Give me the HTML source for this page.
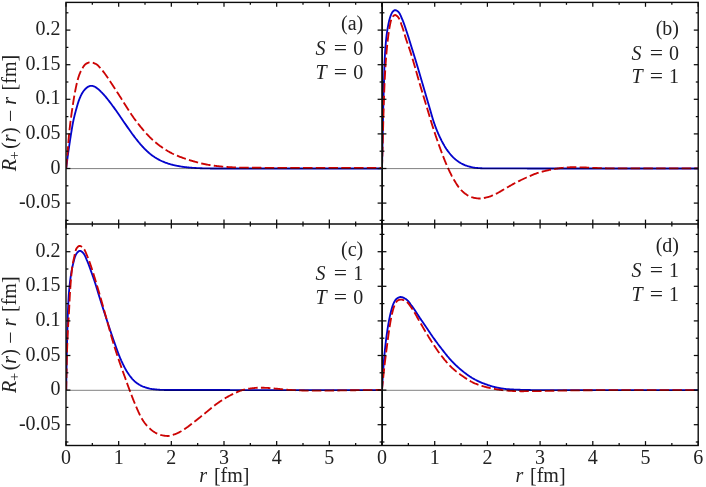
<!DOCTYPE html>
<html><head><meta charset="utf-8"><title>R+(r) - r</title>
<style>
html,body{margin:0;padding:0;background:#fff;}
body{width:706px;height:487px;overflow:hidden;font-family:"Liberation Serif",serif;}
svg{display:block;will-change:transform;}
</style></head><body>
<svg width="706" height="487" viewBox="0 0 706 487">
<rect width="706" height="487" fill="#ffffff"/>
<defs>
<clipPath id="cpa"><rect x="66.00" y="2.40" width="316.00" height="221.60"/></clipPath>
<clipPath id="cpb"><rect x="382.00" y="2.40" width="316.20" height="221.60"/></clipPath>
<clipPath id="cpc"><rect x="66.00" y="224.00" width="316.00" height="221.50"/></clipPath>
<clipPath id="cpd"><rect x="382.00" y="224.00" width="316.20" height="221.50"/></clipPath>
</defs>
<g clip-path="url(#cpa)" fill="none" stroke-linejoin="round">
<path d="M66.20 168.40L66.27 167.80L66.34 167.21L66.41 166.61L66.48 166.02L66.56 165.42L66.63 164.83L66.70 164.23L66.78 163.63L66.85 163.04L66.93 162.44L67.00 161.85L67.08 161.25L67.15 160.66L67.23 160.06L67.31 159.47L67.39 158.87L67.46 158.28L67.54 157.68L67.62 157.09L67.70 156.49L67.78 155.90L67.86 155.31L67.94 154.71L68.03 154.12L68.11 153.52L68.19 152.93L68.28 152.33L68.36 151.74L68.45 151.15L68.53 150.55L68.62 149.96L68.70 149.36L68.79 148.77L68.87 148.18L68.96 147.58L69.05 146.99L69.13 146.40L69.22 145.80L69.31 145.21L69.40 144.61L69.49 144.02L69.57 143.43L69.66 142.83L69.75 142.24L69.84 141.65L69.93 141.05L70.02 140.46L70.11 139.87L70.20 139.27L70.30 138.68L70.39 138.09L70.48 137.50L70.57 136.90L70.67 136.31L70.76 135.72L70.86 135.13L70.95 134.53L71.05 133.94L71.14 133.35L71.24 132.76L71.34 132.16L71.43 131.57L71.53 130.98L71.63 130.39L71.72 129.79L71.82 129.20L71.92 128.61L72.02 128.02L72.12 127.43L72.22 126.83L72.32 126.24L72.42 125.65L72.52 125.06L72.63 124.47L72.74 123.88L72.85 123.29L72.96 122.70L73.08 122.11L73.19 121.52L73.31 120.94L73.44 120.35L73.56 119.77L73.69 119.18L73.82 118.59L73.96 118.01L74.10 117.43L74.24 116.84L74.38 116.26L74.52 115.68L74.67 115.09L74.82 114.51L74.97 113.93L75.12 113.35L75.27 112.77L75.43 112.19L75.58 111.61L75.74 111.03L75.90 110.45L76.06 109.87L76.22 109.29L76.38 108.72L76.54 108.14L76.70 107.56L76.86 106.98L77.02 106.40L77.19 105.82L77.35 105.24L77.52 104.66L77.70 104.09L77.87 103.51L78.05 102.94L78.23 102.37L78.42 101.80L78.61 101.23L78.81 100.67L79.01 100.10L79.22 99.55L79.44 98.99L79.66 98.43L79.89 97.87L80.12 97.31L80.36 96.76L80.61 96.20L80.87 95.65L81.14 95.11L81.41 94.57L81.69 94.04L81.98 93.52L82.28 93.01L82.59 92.51L82.91 92.02L83.25 91.52L83.61 91.03L83.98 90.55L84.36 90.07L84.76 89.61L85.17 89.16L85.59 88.73L86.03 88.31L86.47 87.93L86.93 87.55L87.41 87.18L87.92 86.83L88.45 86.53L88.99 86.30L89.55 86.12L90.14 85.96L90.74 85.84L91.33 85.80L91.93 85.84L92.53 85.95L93.12 86.10L93.69 86.27L94.24 86.46L94.78 86.72L95.31 87.02L95.82 87.36L96.32 87.71L96.81 88.05L97.28 88.40L97.75 88.76L98.21 89.14L98.67 89.52L99.12 89.92L99.56 90.33L100.00 90.74L100.44 91.17L100.87 91.59L101.29 92.03L101.72 92.46L102.13 92.90L102.55 93.34L102.96 93.78L103.37 94.22L103.78 94.65L104.18 95.10L104.58 95.54L104.97 96.00L105.36 96.45L105.74 96.92L106.12 97.38L106.50 97.85L106.88 98.32L107.25 98.79L107.63 99.26L108.00 99.73L108.37 100.20L108.74 100.67L109.11 101.14L109.48 101.62L109.85 102.09L110.21 102.57L110.57 103.05L110.93 103.53L111.29 104.01L111.65 104.49L112.01 104.97L112.37 105.45L112.72 105.94L113.08 106.42L113.43 106.90L113.79 107.39L114.14 107.88L114.49 108.36L114.84 108.85L115.19 109.34L115.53 109.83L115.88 110.32L116.23 110.81L116.57 111.30L116.92 111.79L117.27 112.28L117.61 112.77L117.95 113.26L118.30 113.75L118.64 114.24L118.99 114.74L119.33 115.23L119.67 115.72L120.01 116.22L120.35 116.71L120.68 117.21L121.02 117.70L121.36 118.20L121.70 118.70L122.03 119.19L122.37 119.69L122.71 120.19L123.05 120.68L123.38 121.18L123.72 121.67L124.06 122.17L124.40 122.66L124.74 123.16L125.08 123.65L125.42 124.15L125.76 124.64L126.10 125.14L126.44 125.63L126.78 126.13L127.12 126.62L127.46 127.12L127.80 127.61L128.14 128.10L128.48 128.60L128.82 129.09L129.17 129.58L129.51 130.07L129.86 130.56L130.21 131.05L130.56 131.53L130.91 132.02L131.26 132.51L131.62 132.99L131.97 133.48L132.33 133.96L132.68 134.44L133.04 134.93L133.40 135.41L133.76 135.89L134.12 136.37L134.48 136.85L134.84 137.33L135.21 137.80L135.57 138.28L135.94 138.75L136.31 139.22L136.69 139.69L137.06 140.16L137.44 140.63L137.81 141.09L138.19 141.56L138.57 142.02L138.95 142.49L139.34 142.95L139.73 143.41L140.11 143.87L140.50 144.32L140.90 144.78L141.29 145.23L141.69 145.67L142.10 146.12L142.50 146.56L142.91 147.00L143.32 147.44L143.73 147.87L144.15 148.31L144.56 148.74L144.99 149.17L145.41 149.59L145.84 150.02L146.27 150.44L146.70 150.85L147.14 151.26L147.58 151.66L148.03 152.06L148.48 152.46L148.93 152.86L149.38 153.25L149.84 153.64L150.31 154.02L150.78 154.40L151.25 154.78L151.73 155.14L152.21 155.50L152.69 155.85L153.18 156.19L153.67 156.52L154.17 156.85L154.67 157.18L155.18 157.50L155.69 157.82L156.20 158.14L156.72 158.45L157.24 158.76L157.77 159.07L158.29 159.36L158.82 159.65L159.35 159.94L159.89 160.22L160.43 160.49L160.97 160.75L161.51 161.00L162.05 161.25L162.59 161.49L163.14 161.71L163.69 161.94L164.25 162.16L164.81 162.37L165.37 162.59L165.93 162.79L166.50 162.99L167.07 163.19L167.64 163.39L168.21 163.57L168.79 163.76L169.37 163.94L169.95 164.11L170.52 164.27L171.10 164.44L171.68 164.59L172.26 164.74L172.84 164.89L173.42 165.03L174.01 165.16L174.59 165.30L175.17 165.43L175.76 165.55L176.35 165.68L176.94 165.80L177.53 165.92L178.12 166.03L178.71 166.15L179.30 166.25L179.89 166.36L180.49 166.46L181.08 166.55L181.67 166.64L182.27 166.73L182.86 166.81L183.45 166.89L184.05 166.97L184.64 167.05L185.24 167.12L185.83 167.19L186.43 167.26L187.03 167.33L187.62 167.40L188.22 167.46L188.82 167.52L189.42 167.58L190.01 167.64L190.61 167.69L191.21 167.74L191.81 167.79L192.41 167.83L193.01 167.87L193.60 167.91L194.20 167.94L194.80 167.97L195.40 168.00L196.00 168.04L196.60 168.07L197.20 168.09L197.80 168.12L198.40 168.15L199.00 168.17L199.60 168.20L200.20 168.22L200.80 168.24L201.40 168.26L202.00 168.28L202.60 168.30L203.20 168.32L203.80 168.33L204.39 168.35L204.99 168.36L205.59 168.37L206.19 168.38L206.79 168.40L207.39 168.41L207.99 168.42L208.59 168.43L209.19 168.44L209.79 168.45L210.39 168.46L210.99 168.47L211.59 168.48L212.19 168.48L212.79 168.49L213.39 168.49L213.99 168.50L214.59 168.50L215.19 168.50L215.79 168.50L216.39 168.50L216.99 168.50L217.59 168.50L218.19 168.50L218.79 168.50L219.39 168.50L219.99 168.50L220.59 168.50L221.19 168.50L221.79 168.50L222.39 168.50L222.99 168.50L223.59 168.50L224.19 168.50L224.79 168.50L225.39 168.50L225.99 168.50L226.59 168.50L227.19 168.50L227.79 168.50L228.39 168.50L228.99 168.50L229.59 168.50L230.19 168.50L230.79 168.50L231.39 168.50L231.99 168.50L232.59 168.50L233.19 168.50L233.79 168.50L234.39 168.50L234.99 168.50L235.59 168.50L236.19 168.50L236.79 168.50L237.39 168.50L237.99 168.50L238.59 168.50L239.19 168.50L239.79 168.50L240.39 168.50L240.99 168.50L241.59 168.50L242.19 168.50L242.79 168.50L243.39 168.50L243.99 168.50L244.59 168.50L245.19 168.50L245.79 168.50L246.39 168.50L246.99 168.50L247.59 168.50L248.19 168.50L248.79 168.50L249.39 168.50L249.99 168.50L250.59 168.50L251.19 168.50L251.79 168.50L252.39 168.50L252.99 168.50L253.59 168.50L254.19 168.50L254.79 168.50L255.39 168.50L255.99 168.50L256.59 168.50L257.19 168.50L257.79 168.50L258.39 168.50L258.99 168.50L259.59 168.50L260.19 168.50L260.79 168.50L261.39 168.50L261.99 168.50L262.59 168.50L263.19 168.50L263.79 168.50L264.39 168.50L264.99 168.50L265.59 168.50L266.19 168.50L266.79 168.50L267.39 168.50L267.99 168.50L268.59 168.50L269.19 168.50L269.79 168.50L270.39 168.50L270.99 168.50L271.59 168.50L272.19 168.50L272.79 168.50L273.39 168.50L273.99 168.50L274.59 168.50L275.19 168.50L275.79 168.50L276.39 168.50L276.99 168.50L277.59 168.50L278.19 168.50L278.79 168.50L279.39 168.50L279.99 168.50L280.59 168.50L281.19 168.50L281.79 168.50L282.39 168.50L282.99 168.50L283.59 168.50L284.19 168.50L284.79 168.50L285.39 168.50L285.99 168.50L286.59 168.50L287.19 168.50L287.79 168.50L288.39 168.50L288.99 168.50L289.59 168.50L290.19 168.50L290.79 168.50L291.39 168.50L291.99 168.50L292.59 168.50L293.19 168.50L293.79 168.50L294.39 168.50L294.99 168.50L295.59 168.50L296.19 168.50L296.79 168.50L297.39 168.50L297.99 168.50L298.59 168.50L299.19 168.50L299.79 168.50L300.39 168.50L300.99 168.50L301.59 168.50L302.19 168.50L302.79 168.50L303.39 168.50L303.99 168.50L304.59 168.50L305.19 168.50L305.79 168.50L306.39 168.50L306.99 168.50L307.59 168.50L308.19 168.50L308.79 168.50L309.39 168.50L309.99 168.50L310.59 168.50L311.19 168.50L311.79 168.50L312.39 168.50L312.99 168.50L313.59 168.50L314.19 168.50L314.79 168.50L315.39 168.50L315.99 168.50L316.59 168.50L317.19 168.50L317.79 168.50L318.39 168.50L318.99 168.50L319.59 168.50L320.19 168.50L320.79 168.50L321.39 168.50L321.99 168.50L322.59 168.50L323.19 168.50L323.79 168.50L324.39 168.50L324.99 168.50L325.59 168.50L326.19 168.50L326.79 168.50L327.39 168.50L327.99 168.50L328.59 168.50L329.19 168.50L329.79 168.50L330.39 168.50L330.99 168.50L331.59 168.50L332.19 168.50L332.79 168.50L333.39 168.50L333.99 168.50L334.59 168.50L335.19 168.50L335.79 168.50L336.39 168.50L336.99 168.50L337.59 168.50L338.19 168.50L338.79 168.50L339.39 168.50L339.99 168.50L340.59 168.50L341.19 168.50L341.79 168.50L342.39 168.50L342.99 168.50L343.59 168.50L344.19 168.50L344.79 168.50L345.39 168.50L345.99 168.50L346.59 168.50L347.19 168.50L347.79 168.50L348.39 168.50L348.99 168.50L349.59 168.50L350.19 168.50L350.79 168.50L351.39 168.50L351.99 168.50L352.59 168.50L353.19 168.50L353.79 168.50L354.39 168.50L354.99 168.50L355.59 168.50L356.19 168.50L356.79 168.50L357.39 168.50L357.99 168.50L358.59 168.50L359.19 168.50L359.79 168.50L360.39 168.50L360.99 168.50L361.59 168.50L362.19 168.50L362.79 168.50L363.39 168.50L363.99 168.50L364.59 168.50L365.19 168.50L365.79 168.50L366.39 168.50L366.99 168.50L367.59 168.50L368.19 168.50L368.79 168.50L369.39 168.50L369.99 168.50L370.59 168.50L371.19 168.50L371.79 168.50L372.39 168.50L372.99 168.50L373.59 168.50L374.19 168.50L374.79 168.50L375.39 168.50L375.99 168.50L376.59 168.50L377.19 168.50L377.79 168.50L378.39 168.50L378.99 168.50L379.59 168.50L380.19 168.50L380.79 168.50L381.00 168.50" stroke="#0404cc" stroke-width="1.85"/>
<path d="M66.20 168.40L66.25 167.80L66.30 167.20L66.36 166.61L66.41 166.01L66.46 165.41L66.51 164.81L66.56 164.22L66.61 163.62L66.66 163.02L66.72 162.42L66.77 161.82L66.82 161.23L66.87 160.63L66.92 160.03L66.97 159.43L67.02 158.84L67.07 158.24L67.12 157.64L67.17 157.04L67.23 156.44L67.28 155.85L67.33 155.25L67.38 154.65L67.43 154.05L67.48 153.45L67.53 152.86L67.58 152.26L67.63 151.66L67.68 151.06L67.73 150.46L67.77 149.87L67.82 149.27L67.87 148.67L67.92 148.07L67.96 147.47L68.01 146.88L68.06 146.28L68.10 145.68L68.15 145.08L68.20 144.48L68.24 143.88L68.29 143.29L68.34 142.69L68.39 142.09L68.43 141.49L68.48 140.89L68.53 140.30L68.58 139.70L68.63 139.10L68.68 138.50L68.73 137.90L68.79 137.31L68.84 136.71L68.90 136.11L68.95 135.51L69.01 134.92L69.07 134.32L69.12 133.72L69.18 133.13L69.25 132.53L69.31 131.93L69.37 131.34L69.43 130.74L69.50 130.14L69.56 129.55L69.63 128.95L69.70 128.35L69.76 127.76L69.83 127.16L69.90 126.56L69.97 125.97L70.04 125.37L70.11 124.78L70.18 124.18L70.25 123.59L70.33 122.99L70.40 122.39L70.47 121.80L70.55 121.20L70.62 120.61L70.70 120.01L70.77 119.42L70.85 118.82L70.93 118.23L71.01 117.63L71.09 117.04L71.17 116.44L71.25 115.85L71.33 115.26L71.42 114.66L71.50 114.07L71.59 113.47L71.67 112.88L71.76 112.29L71.84 111.69L71.93 111.10L72.02 110.50L72.11 109.91L72.20 109.32L72.29 108.72L72.38 108.13L72.47 107.54L72.56 106.94L72.65 106.35L72.74 105.76L72.83 105.17L72.92 104.57L73.01 103.98L73.10 103.39L73.19 102.79L73.28 102.20L73.37 101.60L73.47 101.01L73.56 100.42L73.65 99.82L73.75 99.23L73.84 98.64L73.94 98.05L74.03 97.45L74.13 96.86L74.23 96.27L74.33 95.68L74.44 95.09L74.54 94.50L74.65 93.91L74.75 93.32L74.86 92.73L74.98 92.14L75.09 91.55L75.21 90.96L75.32 90.37L75.44 89.79L75.56 89.20L75.68 88.60L75.80 88.01L75.92 87.42L76.04 86.83L76.17 86.24L76.29 85.65L76.42 85.06L76.55 84.48L76.69 83.89L76.83 83.30L76.97 82.71L77.11 82.13L77.25 81.55L77.40 80.97L77.56 80.39L77.71 79.81L77.87 79.23L78.04 78.66L78.21 78.09L78.38 77.52L78.56 76.95L78.74 76.39L78.93 75.82L79.13 75.26L79.34 74.69L79.55 74.13L79.78 73.57L80.02 73.01L80.26 72.45L80.51 71.90L80.77 71.35L81.04 70.81L81.31 70.28L81.59 69.75L81.88 69.23L82.18 68.71L82.48 68.20L82.79 67.68L83.12 67.14L83.46 66.61L83.81 66.08L84.18 65.58L84.57 65.10L84.97 64.66L85.39 64.27L85.83 63.94L86.30 63.65L86.82 63.36L87.37 63.08L87.95 62.82L88.54 62.60L89.14 62.43L89.74 62.33L90.31 62.30L90.89 62.34L91.49 62.42L92.09 62.54L92.69 62.70L93.29 62.88L93.88 63.09L94.46 63.31L95.01 63.55L95.54 63.78L96.04 64.02L96.53 64.31L97.00 64.64L97.46 65.02L97.90 65.43L98.34 65.86L98.77 66.32L99.19 66.79L99.60 67.26L100.01 67.73L100.41 68.18L100.82 68.63L101.21 69.07L101.61 69.52L101.99 69.98L102.37 70.44L102.75 70.90L103.12 71.38L103.49 71.85L103.86 72.33L104.22 72.81L104.58 73.29L104.94 73.78L105.29 74.27L105.65 74.75L106.00 75.24L106.35 75.73L106.70 76.22L107.05 76.71L107.39 77.19L107.74 77.69L108.08 78.18L108.42 78.67L108.75 79.17L109.09 79.67L109.42 80.17L109.75 80.67L110.08 81.17L110.41 81.67L110.73 82.18L111.06 82.68L111.38 83.19L111.71 83.69L112.03 84.20L112.35 84.70L112.68 85.21L113.00 85.72L113.32 86.22L113.65 86.73L113.97 87.23L114.30 87.74L114.63 88.24L114.95 88.74L115.28 89.25L115.60 89.75L115.93 90.25L116.25 90.76L116.58 91.26L116.90 91.77L117.23 92.27L117.55 92.78L117.87 93.28L118.20 93.79L118.52 94.29L118.84 94.80L119.17 95.31L119.49 95.81L119.81 96.32L120.14 96.82L120.46 97.33L120.78 97.83L121.11 98.34L121.43 98.84L121.75 99.35L122.08 99.85L122.40 100.36L122.73 100.86L123.05 101.37L123.37 101.88L123.69 102.39L124.01 102.89L124.33 103.40L124.65 103.91L124.97 104.42L125.29 104.93L125.60 105.44L125.92 105.95L126.24 106.46L126.56 106.97L126.88 107.48L127.20 107.99L127.52 108.49L127.84 109.00L128.16 109.51L128.48 110.02L128.80 110.52L129.13 111.03L129.45 111.53L129.78 112.03L130.11 112.54L130.44 113.04L130.77 113.54L131.10 114.03L131.44 114.53L131.77 115.03L132.11 115.52L132.46 116.01L132.80 116.50L133.15 116.99L133.49 117.48L133.84 117.96L134.19 118.45L134.55 118.94L134.90 119.42L135.26 119.90L135.61 120.39L135.97 120.87L136.33 121.35L136.69 121.83L137.06 122.31L137.42 122.79L137.79 123.27L138.16 123.74L138.53 124.22L138.90 124.69L139.27 125.16L139.64 125.63L140.02 126.10L140.40 126.56L140.78 127.03L141.16 127.49L141.54 127.95L141.92 128.41L142.31 128.87L142.70 129.33L143.09 129.78L143.48 130.24L143.87 130.69L144.26 131.14L144.66 131.59L145.06 132.04L145.45 132.49L145.86 132.94L146.26 133.39L146.66 133.84L147.07 134.28L147.48 134.72L147.89 135.16L148.30 135.60L148.72 136.04L149.14 136.47L149.56 136.90L149.98 137.33L150.41 137.75L150.83 138.17L151.26 138.59L151.70 139.00L152.13 139.41L152.57 139.82L153.01 140.22L153.45 140.62L153.90 141.01L154.35 141.40L154.81 141.79L155.26 142.18L155.73 142.57L156.19 142.95L156.66 143.33L157.13 143.70L157.60 144.08L158.08 144.45L158.55 144.82L159.04 145.18L159.52 145.54L160.00 145.90L160.49 146.25L160.98 146.60L161.47 146.95L161.96 147.29L162.45 147.63L162.95 147.96L163.44 148.30L163.94 148.63L164.44 148.95L164.95 149.28L165.45 149.60L165.96 149.92L166.48 150.24L166.99 150.56L167.51 150.87L168.02 151.18L168.54 151.48L169.07 151.78L169.59 152.07L170.12 152.37L170.65 152.65L171.18 152.93L171.71 153.21L172.24 153.48L172.78 153.74L173.31 154.00L173.85 154.25L174.40 154.50L174.94 154.75L175.49 154.99L176.04 155.23L176.60 155.46L177.15 155.69L177.71 155.92L178.27 156.14L178.83 156.36L179.39 156.58L179.95 156.80L180.51 157.01L181.08 157.22L181.64 157.43L182.20 157.64L182.77 157.84L183.33 158.05L183.89 158.25L184.46 158.45L185.03 158.64L185.59 158.84L186.16 159.03L186.73 159.22L187.30 159.41L187.87 159.60L188.44 159.78L189.02 159.96L189.59 160.14L190.16 160.32L190.74 160.49L191.31 160.67L191.89 160.84L192.47 161.00L193.04 161.17L193.62 161.33L194.19 161.50L194.77 161.66L195.35 161.82L195.93 161.98L196.51 162.14L197.09 162.29L197.67 162.45L198.25 162.60L198.83 162.76L199.41 162.91L199.99 163.05L200.58 163.20L201.16 163.34L201.74 163.48L202.33 163.62L202.91 163.75L203.50 163.88L204.09 164.01L204.67 164.13L205.26 164.25L205.85 164.37L206.43 164.48L207.02 164.59L207.61 164.70L208.20 164.81L208.80 164.91L209.39 165.01L209.98 165.11L210.57 165.21L211.17 165.30L211.76 165.39L212.35 165.48L212.95 165.56L213.54 165.64L214.14 165.72L214.73 165.79L215.33 165.87L215.92 165.94L216.52 166.01L217.12 166.07L217.71 166.14L218.31 166.20L218.91 166.27L219.50 166.33L220.10 166.38L220.70 166.44L221.30 166.49L221.89 166.55L222.49 166.60L223.09 166.65L223.69 166.70L224.28 166.75L224.88 166.79L225.48 166.84L226.08 166.88L226.68 166.92L227.28 166.97L227.88 167.01L228.47 167.05L229.07 167.09L229.67 167.12L230.27 167.16L230.87 167.19L231.47 167.23L232.07 167.26L232.67 167.30L233.27 167.33L233.87 167.36L234.47 167.40L235.06 167.43L235.66 167.46L236.26 167.49L236.86 167.51L237.46 167.54L238.06 167.56L238.66 167.58L239.26 167.59L239.86 167.61L240.46 167.62L241.06 167.63L241.66 167.64L242.26 167.65L242.86 167.66L243.46 167.67L244.06 167.68L244.66 167.69L245.26 167.69L245.86 167.70L246.46 167.71L247.06 167.72L247.66 167.72L248.26 167.73L248.86 167.73L249.46 167.74L250.06 167.74L250.66 167.75L251.26 167.75L251.86 167.75L252.46 167.76L253.06 167.76L253.66 167.76L254.26 167.77L254.86 167.77L255.46 167.77L256.06 167.78L256.66 167.78L257.26 167.78L257.86 167.78L258.46 167.79L259.06 167.79L259.66 167.79L260.26 167.79L260.86 167.79L261.46 167.80L262.06 167.80L262.66 167.80L263.26 167.80L263.86 167.80L264.46 167.80L265.06 167.80L265.66 167.80L266.26 167.80L266.86 167.80L267.46 167.80L268.06 167.80L268.66 167.80L269.26 167.80L269.86 167.80L270.46 167.80L271.06 167.80L271.66 167.80L272.26 167.80L272.86 167.80L273.46 167.80L274.06 167.80L274.66 167.80L275.26 167.80L275.86 167.80L276.46 167.80L277.06 167.80L277.66 167.80L278.26 167.80L278.86 167.80L279.46 167.80L280.06 167.80L280.66 167.80L281.26 167.80L281.86 167.80L282.46 167.80L283.06 167.80L283.66 167.80L284.26 167.80L284.86 167.80L285.46 167.80L286.06 167.80L286.66 167.80L287.26 167.80L287.86 167.80L288.46 167.80L289.06 167.80L289.66 167.80L290.26 167.80L290.86 167.80L291.46 167.80L292.06 167.80L292.66 167.80L293.26 167.80L293.86 167.80L294.46 167.80L295.06 167.80L295.66 167.80L296.26 167.80L296.86 167.80L297.46 167.80L298.06 167.80L298.66 167.80L299.26 167.80L299.86 167.80L300.46 167.80L301.06 167.80L301.66 167.80L302.26 167.81L302.86 167.81L303.46 167.81L304.06 167.81L304.66 167.81L305.26 167.81L305.86 167.81L306.46 167.81L307.06 167.81L307.66 167.81L308.26 167.81L308.86 167.81L309.46 167.81L310.06 167.81L310.66 167.81L311.26 167.81L311.86 167.81L312.46 167.82L313.06 167.82L313.66 167.82L314.26 167.82L314.86 167.82L315.46 167.82L316.06 167.82L316.66 167.82L317.26 167.82L317.86 167.82L318.46 167.82L319.06 167.82L319.66 167.82L320.26 167.82L320.86 167.83L321.46 167.83L322.06 167.83L322.66 167.83L323.26 167.83L323.86 167.83L324.46 167.83L325.06 167.83L325.66 167.83L326.26 167.83L326.86 167.83L327.46 167.83L328.06 167.84L328.66 167.84L329.26 167.84L329.86 167.84L330.46 167.84L331.06 167.84L331.66 167.84L332.26 167.84L332.86 167.84L333.46 167.84L334.06 167.84L334.66 167.84L335.26 167.84L335.86 167.85L336.46 167.85L337.06 167.85L337.66 167.85L338.26 167.85L338.86 167.85L339.46 167.85L340.06 167.85L340.66 167.85L341.26 167.85L341.86 167.85L342.46 167.85L343.06 167.85L343.66 167.85L344.26 167.85L344.86 167.86L345.46 167.86L346.06 167.86L346.66 167.86L347.26 167.86L347.86 167.86L348.46 167.86L349.06 167.86L349.66 167.86L350.26 167.86L350.86 167.86L351.46 167.86L352.06 167.86L352.66 167.86L353.26 167.87L353.86 167.87L354.46 167.87L355.06 167.87L355.66 167.87L356.26 167.87L356.86 167.87L357.46 167.87L358.06 167.87L358.66 167.87L359.26 167.87L359.86 167.87L360.46 167.87L361.06 167.87L361.66 167.88L362.26 167.88L362.86 167.88L363.46 167.88L364.06 167.88L364.66 167.88L365.26 167.88L365.86 167.88L366.46 167.88L367.06 167.88L367.66 167.88L368.26 167.88L368.86 167.88L369.46 167.89L370.06 167.89L370.66 167.89L371.26 167.89L371.86 167.89L372.46 167.89L373.06 167.89L373.66 167.89L374.26 167.89L374.86 167.89L375.46 167.89L376.06 167.89L376.66 167.89L377.26 167.90L377.86 167.90L378.46 167.90L379.06 167.90L379.66 167.90L380.26 167.90L380.86 167.90L381.00 167.90" stroke="#cc0404" stroke-width="1.85" stroke-dasharray="9.5 3.26" stroke-dashoffset="0.0"/>
</g>
<g clip-path="url(#cpb)" fill="none" stroke-linejoin="round">
<path d="M382.00 168.40L382.01 167.80L382.03 167.20L382.04 166.60L382.05 166.00L382.06 165.40L382.08 164.80L382.09 164.20L382.10 163.60L382.12 163.00L382.13 162.40L382.14 161.80L382.16 161.20L382.17 160.60L382.18 160.00L382.19 159.40L382.21 158.80L382.22 158.20L382.23 157.60L382.24 157.00L382.26 156.40L382.27 155.80L382.28 155.20L382.30 154.60L382.31 154.00L382.32 153.40L382.33 152.80L382.35 152.20L382.36 151.60L382.37 151.00L382.38 150.40L382.40 149.80L382.41 149.20L382.42 148.60L382.43 148.00L382.45 147.40L382.46 146.80L382.47 146.21L382.48 145.61L382.50 145.01L382.51 144.41L382.52 143.81L382.53 143.21L382.55 142.61L382.56 142.01L382.57 141.41L382.58 140.81L382.60 140.21L382.61 139.61L382.62 139.01L382.63 138.41L382.64 137.81L382.66 137.21L382.67 136.61L382.68 136.01L382.69 135.41L382.70 134.81L382.71 134.21L382.73 133.61L382.74 133.01L382.75 132.41L382.76 131.81L382.77 131.21L382.78 130.61L382.79 130.01L382.81 129.41L382.82 128.81L382.83 128.21L382.84 127.61L382.85 127.01L382.86 126.41L382.87 125.81L382.89 125.21L382.90 124.61L382.91 124.01L382.92 123.41L382.93 122.81L382.94 122.21L382.95 121.61L382.97 121.01L382.98 120.41L382.99 119.81L383.00 119.21L383.01 118.61L383.03 118.01L383.04 117.41L383.05 116.81L383.06 116.21L383.08 115.61L383.09 115.01L383.10 114.41L383.11 113.81L383.13 113.21L383.14 112.61L383.15 112.01L383.17 111.41L383.18 110.81L383.20 110.21L383.21 109.61L383.22 109.01L383.24 108.41L383.25 107.81L383.27 107.21L383.28 106.61L383.30 106.01L383.31 105.41L383.33 104.81L383.35 104.21L383.36 103.61L383.38 103.01L383.39 102.41L383.41 101.82L383.43 101.22L383.44 100.62L383.46 100.02L383.48 99.42L383.49 98.82L383.51 98.22L383.53 97.62L383.55 97.02L383.56 96.42L383.58 95.82L383.60 95.22L383.62 94.62L383.63 94.02L383.65 93.42L383.67 92.82L383.69 92.22L383.70 91.62L383.72 91.02L383.74 90.42L383.76 89.82L383.78 89.22L383.79 88.62L383.81 88.02L383.83 87.42L383.85 86.82L383.86 86.22L383.88 85.62L383.90 85.02L383.92 84.42L383.93 83.82L383.95 83.22L383.97 82.62L383.98 82.02L384.00 81.42L384.02 80.82L384.03 80.22L384.05 79.62L384.06 79.02L384.08 78.42L384.10 77.82L384.11 77.22L384.13 76.62L384.14 76.02L384.16 75.42L384.18 74.82L384.19 74.22L384.21 73.62L384.23 73.03L384.24 72.43L384.26 71.83L384.28 71.23L384.30 70.63L384.32 70.03L384.33 69.43L384.35 68.83L384.37 68.23L384.39 67.63L384.41 67.03L384.43 66.43L384.45 65.83L384.47 65.23L384.50 64.63L384.52 64.03L384.54 63.43L384.57 62.83L384.59 62.23L384.62 61.63L384.64 61.03L384.67 60.43L384.70 59.84L384.72 59.24L384.75 58.64L384.78 58.04L384.81 57.44L384.84 56.84L384.88 56.24L384.91 55.64L384.94 55.04L384.98 54.44L385.01 53.84L385.05 53.24L385.09 52.64L385.12 52.04L385.16 51.44L385.20 50.84L385.24 50.24L385.29 49.65L385.33 49.05L385.37 48.45L385.41 47.85L385.46 47.25L385.50 46.65L385.55 46.06L385.60 45.46L385.65 44.86L385.70 44.26L385.75 43.67L385.80 43.07L385.85 42.47L385.90 41.87L385.96 41.28L386.01 40.68L386.07 40.08L386.13 39.49L386.20 38.89L386.26 38.29L386.33 37.70L386.40 37.10L386.47 36.50L386.54 35.90L386.62 35.31L386.69 34.71L386.77 34.11L386.85 33.52L386.94 32.92L387.02 32.33L387.11 31.73L387.20 31.14L387.29 30.54L387.38 29.95L387.48 29.36L387.58 28.77L387.68 28.17L387.78 27.58L387.88 26.99L387.98 26.40L388.09 25.82L388.20 25.23L388.31 24.64L388.42 24.06L388.54 23.47L388.67 22.87L388.79 22.28L388.93 21.69L389.06 21.10L389.21 20.51L389.36 19.92L389.51 19.34L389.68 18.76L389.85 18.18L390.02 17.61L390.21 17.04L390.40 16.48L390.60 15.92L390.81 15.37L391.03 14.82L391.28 14.25L391.54 13.68L391.83 13.11L392.14 12.57L392.47 12.06L392.82 11.60L393.20 11.19L393.64 10.81L394.17 10.43L394.73 10.16L395.27 10.11L395.84 10.23L396.42 10.47L396.99 10.79L397.52 11.15L398.00 11.53L398.40 11.88L398.76 12.28L399.10 12.73L399.43 13.21L399.73 13.72L400.02 14.26L400.30 14.82L400.57 15.39L400.83 15.98L401.08 16.57L401.32 17.15L401.56 17.72L401.81 18.29L402.05 18.83L402.28 19.38L402.51 19.93L402.74 20.48L402.96 21.03L403.18 21.59L403.39 22.15L403.61 22.71L403.81 23.28L404.02 23.84L404.22 24.41L404.42 24.98L404.61 25.54L404.81 26.11L405.00 26.69L405.19 27.26L405.38 27.83L405.57 28.40L405.76 28.97L405.95 29.54L406.14 30.11L406.33 30.69L406.52 31.26L406.71 31.82L406.90 32.39L407.09 32.96L407.28 33.53L407.46 34.10L407.65 34.67L407.83 35.24L408.02 35.81L408.20 36.39L408.38 36.96L408.56 37.53L408.74 38.10L408.92 38.67L409.10 39.25L409.28 39.82L409.45 40.39L409.63 40.97L409.81 41.54L409.99 42.11L410.16 42.69L410.34 43.26L410.51 43.84L410.69 44.41L410.87 44.98L411.04 45.56L411.22 46.13L411.40 46.70L411.57 47.28L411.75 47.85L411.93 48.42L412.11 48.99L412.29 49.57L412.47 50.14L412.65 50.71L412.83 51.29L413.00 51.86L413.18 52.43L413.36 53.00L413.54 53.58L413.72 54.15L413.90 54.72L414.07 55.30L414.25 55.87L414.43 56.44L414.60 57.02L414.78 57.59L414.96 58.16L415.13 58.74L415.31 59.31L415.48 59.88L415.66 60.46L415.83 61.03L416.00 61.61L416.18 62.18L416.35 62.76L416.52 63.33L416.70 63.91L416.87 64.48L417.04 65.06L417.21 65.63L417.38 66.21L417.55 66.78L417.72 67.36L417.89 67.93L418.06 68.51L418.23 69.08L418.40 69.66L418.57 70.23L418.74 70.81L418.91 71.38L419.08 71.96L419.25 72.54L419.42 73.11L419.59 73.69L419.76 74.26L419.92 74.84L420.09 75.41L420.26 75.99L420.43 76.57L420.60 77.14L420.77 77.72L420.94 78.29L421.10 78.87L421.27 79.45L421.44 80.02L421.61 80.60L421.78 81.17L421.95 81.75L422.12 82.32L422.29 82.90L422.46 83.48L422.63 84.05L422.80 84.63L422.96 85.20L423.13 85.78L423.30 86.35L423.47 86.93L423.64 87.51L423.81 88.08L423.97 88.66L424.14 89.23L424.31 89.81L424.48 90.39L424.65 90.96L424.81 91.54L424.98 92.11L425.15 92.69L425.32 93.27L425.49 93.84L425.65 94.42L425.82 94.99L425.99 95.57L426.16 96.15L426.33 96.72L426.49 97.30L426.66 97.87L426.83 98.45L427.00 99.03L427.17 99.60L427.34 100.18L427.50 100.75L427.67 101.33L427.84 101.90L428.01 102.48L428.18 103.06L428.35 103.63L428.52 104.21L428.69 104.78L428.86 105.36L429.03 105.93L429.20 106.51L429.37 107.08L429.54 107.66L429.71 108.24L429.88 108.81L430.04 109.39L430.21 109.97L430.37 110.55L430.54 111.12L430.70 111.70L430.86 112.28L431.03 112.86L431.19 113.44L431.36 114.01L431.52 114.59L431.69 115.17L431.86 115.75L432.03 116.32L432.20 116.90L432.37 117.47L432.54 118.05L432.71 118.62L432.89 119.20L433.07 119.77L433.25 120.34L433.43 120.91L433.61 121.48L433.80 122.05L433.99 122.62L434.19 123.18L434.38 123.75L434.58 124.31L434.78 124.87L434.99 125.44L435.19 126.00L435.40 126.56L435.61 127.13L435.83 127.69L436.04 128.25L436.26 128.81L436.48 129.37L436.71 129.93L436.93 130.49L437.16 131.04L437.39 131.60L437.63 132.15L437.86 132.71L438.10 133.26L438.34 133.81L438.58 134.36L438.83 134.91L439.07 135.46L439.32 136.00L439.57 136.55L439.83 137.09L440.08 137.63L440.34 138.17L440.60 138.70L440.87 139.24L441.13 139.78L441.40 140.31L441.67 140.85L441.95 141.38L442.23 141.92L442.51 142.45L442.80 142.98L443.09 143.51L443.38 144.04L443.68 144.56L443.98 145.09L444.29 145.61L444.59 146.13L444.91 146.64L445.22 147.15L445.54 147.66L445.86 148.16L446.19 148.66L446.52 149.16L446.86 149.65L447.20 150.14L447.54 150.62L447.89 151.11L448.25 151.59L448.61 152.07L448.98 152.55L449.35 153.03L449.73 153.50L450.11 153.97L450.50 154.44L450.90 154.90L451.30 155.36L451.70 155.80L452.11 156.25L452.53 156.68L452.95 157.11L453.37 157.52L453.80 157.93L454.23 158.33L454.67 158.72L455.12 159.11L455.58 159.50L456.05 159.88L456.52 160.26L457.01 160.63L457.49 160.99L457.99 161.35L458.49 161.69L458.99 162.03L459.50 162.36L460.01 162.67L460.53 162.97L461.04 163.26L461.56 163.54L462.09 163.81L462.63 164.08L463.17 164.34L463.72 164.59L464.27 164.84L464.83 165.08L465.39 165.30L465.95 165.52L466.52 165.73L467.09 165.93L467.66 166.11L468.23 166.28L468.80 166.44L469.38 166.60L469.96 166.76L470.54 166.91L471.13 167.06L471.72 167.20L472.31 167.33L472.90 167.45L473.49 167.56L474.08 167.65L474.68 167.73L475.27 167.80L475.86 167.85L476.46 167.90L477.05 167.96L477.65 168.01L478.25 168.05L478.85 168.10L479.44 168.14L480.04 168.18L480.64 168.22L481.25 168.26L481.85 168.29L482.45 168.32L483.05 168.34L483.65 168.36L484.25 168.38L484.85 168.39L485.45 168.40L486.05 168.40L486.65 168.40L487.25 168.40L487.85 168.40L488.45 168.40L489.05 168.40L489.65 168.40L490.25 168.41L490.85 168.41L491.45 168.41L492.05 168.41L492.65 168.41L493.24 168.41L493.84 168.41L494.44 168.41L495.04 168.41L495.64 168.41L496.24 168.41L496.84 168.41L497.44 168.41L498.04 168.42L498.64 168.42L499.24 168.42L499.84 168.42L500.44 168.42L501.04 168.42L501.64 168.42L502.24 168.42L502.84 168.42L503.43 168.42L504.03 168.42L504.63 168.42L505.23 168.42L505.83 168.42L506.43 168.42L507.03 168.43L507.63 168.43L508.23 168.43L508.83 168.43L509.43 168.43L510.03 168.43L510.63 168.43L511.23 168.43L511.83 168.43L512.43 168.43L513.03 168.43L513.63 168.43L514.23 168.43L514.82 168.43L515.42 168.43L516.02 168.43L516.62 168.44L517.22 168.44L517.82 168.44L518.42 168.44L519.02 168.44L519.62 168.44L520.22 168.44L520.82 168.44L521.42 168.44L522.02 168.44L522.62 168.44L523.22 168.44L523.82 168.44L524.42 168.44L525.02 168.44L525.62 168.44L526.22 168.44L526.82 168.45L527.41 168.45L528.01 168.45L528.61 168.45L529.21 168.45L529.81 168.45L530.41 168.45L531.01 168.45L531.61 168.45L532.21 168.45L532.81 168.45L533.41 168.45L534.01 168.45L534.61 168.45L535.21 168.45L535.81 168.45L536.41 168.45L537.01 168.45L537.61 168.45L538.21 168.45L538.81 168.46L539.41 168.46L540.01 168.46L540.61 168.46L541.21 168.46L541.80 168.46L542.40 168.46L543.00 168.46L543.60 168.46L544.20 168.46L544.80 168.46L545.40 168.46L546.00 168.46L546.60 168.46L547.20 168.46L547.80 168.46L548.40 168.46L549.00 168.46L549.60 168.46L550.20 168.46L550.80 168.46L551.40 168.46L552.00 168.46L552.60 168.47L553.20 168.47L553.80 168.47L554.40 168.47L555.00 168.47L555.60 168.47L556.20 168.47L556.80 168.47L557.40 168.47L558.00 168.47L558.60 168.47L559.20 168.47L559.79 168.47L560.39 168.47L560.99 168.47L561.59 168.47L562.19 168.47L562.79 168.47L563.39 168.47L563.99 168.47L564.59 168.47L565.19 168.47L565.79 168.47L566.39 168.47L566.99 168.47L567.59 168.47L568.19 168.47L568.79 168.47L569.39 168.48L569.99 168.48L570.59 168.48L571.19 168.48L571.79 168.48L572.39 168.48L572.99 168.48L573.59 168.48L574.19 168.48L574.79 168.48L575.39 168.48L575.99 168.48L576.59 168.48L577.19 168.48L577.79 168.48L578.39 168.48L578.99 168.48L579.59 168.48L580.19 168.48L580.79 168.48L581.39 168.48L581.99 168.48L582.59 168.48L583.19 168.48L583.79 168.48L584.39 168.48L584.99 168.48L585.59 168.48L586.19 168.48L586.79 168.48L587.39 168.48L587.99 168.48L588.59 168.48L589.19 168.48L589.79 168.48L590.39 168.48L590.99 168.48L591.59 168.49L592.19 168.49L592.79 168.49L593.39 168.49L593.99 168.49L594.58 168.49L595.18 168.49L595.78 168.49L596.38 168.49L596.98 168.49L597.58 168.49L598.18 168.49L598.78 168.49L599.38 168.49L599.98 168.49L600.58 168.49L601.18 168.49L601.78 168.49L602.38 168.49L602.98 168.49L603.58 168.49L604.18 168.49L604.78 168.49L605.38 168.49L605.98 168.49L606.58 168.49L607.18 168.49L607.78 168.49L608.38 168.49L608.99 168.49L609.59 168.49L610.19 168.49L610.79 168.49L611.39 168.49L611.99 168.49L612.59 168.49L613.19 168.49L613.79 168.49L614.39 168.49L614.99 168.49L615.59 168.49L616.19 168.49L616.79 168.49L617.39 168.49L617.99 168.49L618.59 168.49L619.19 168.49L619.79 168.49L620.39 168.49L620.99 168.49L621.59 168.49L622.19 168.49L622.79 168.49L623.39 168.49L623.99 168.49L624.59 168.49L625.19 168.49L625.79 168.49L626.39 168.49L626.99 168.49L627.59 168.50L628.19 168.50L628.79 168.50L629.39 168.50L629.99 168.50L630.59 168.50L631.19 168.50L631.79 168.50L632.39 168.50L632.99 168.50L633.59 168.50L634.19 168.50L634.79 168.50L635.39 168.50L635.99 168.50L636.59 168.50L637.19 168.50L637.79 168.50L638.39 168.50L638.99 168.50L639.59 168.50L640.19 168.50L640.79 168.50L641.40 168.50L642.00 168.50L642.60 168.50L643.20 168.50L643.80 168.50L644.40 168.50L645.00 168.50L645.60 168.50L646.20 168.50L646.80 168.50L647.40 168.50L648.00 168.50L648.60 168.50L649.20 168.50L649.80 168.50L650.40 168.50L651.00 168.50L651.60 168.50L652.20 168.50L652.80 168.50L653.40 168.50L654.00 168.50L654.60 168.50L655.20 168.50L655.80 168.50L656.41 168.50L657.01 168.50L657.61 168.50L658.21 168.50L658.81 168.50L659.41 168.50L660.01 168.50L660.61 168.50L661.21 168.50L661.81 168.50L662.41 168.50L663.01 168.50L663.61 168.50L664.21 168.50L664.81 168.50L665.41 168.50L666.01 168.50L666.61 168.50L667.21 168.50L667.81 168.50L668.42 168.50L669.02 168.50L669.62 168.50L670.22 168.50L670.82 168.50L671.42 168.50L672.02 168.50L672.62 168.50L673.22 168.50L673.82 168.50L674.42 168.50L675.02 168.50L675.62 168.50L676.22 168.50L676.82 168.50L677.42 168.50L678.03 168.50L678.63 168.50L679.23 168.50L679.83 168.50L680.43 168.50L681.03 168.50L681.63 168.50L682.23 168.50L682.83 168.50L683.43 168.50L684.03 168.50L684.63 168.50L685.23 168.50L685.84 168.50L686.44 168.50L687.04 168.50L687.64 168.50L688.24 168.50L688.84 168.50L689.44 168.50L690.04 168.50L690.64 168.50L691.24 168.50L691.84 168.50L692.44 168.50L693.04 168.50L693.65 168.50L694.25 168.50L694.85 168.50L695.45 168.50L696.05 168.50L696.65 168.50L697.25 168.50L697.85 168.50L698.00 168.50" stroke="#0404cc" stroke-width="1.85"/>
<path d="M382.00 168.40L382.02 167.80L382.03 167.20L382.05 166.60L382.07 166.00L382.09 165.40L382.10 164.80L382.12 164.20L382.14 163.60L382.16 163.00L382.17 162.40L382.19 161.80L382.21 161.20L382.22 160.60L382.24 160.00L382.26 159.40L382.28 158.80L382.29 158.20L382.31 157.60L382.33 157.00L382.34 156.40L382.36 155.81L382.38 155.21L382.39 154.61L382.41 154.01L382.43 153.41L382.44 152.81L382.46 152.21L382.48 151.61L382.50 151.01L382.51 150.41L382.53 149.81L382.55 149.21L382.56 148.61L382.58 148.01L382.60 147.41L382.61 146.81L382.63 146.21L382.65 145.61L382.66 145.01L382.68 144.41L382.70 143.81L382.71 143.21L382.73 142.61L382.74 142.01L382.76 141.41L382.78 140.81L382.79 140.21L382.81 139.61L382.83 139.01L382.84 138.41L382.86 137.81L382.88 137.21L382.89 136.61L382.91 136.01L382.92 135.41L382.94 134.81L382.95 134.21L382.97 133.61L382.98 133.01L383.00 132.41L383.01 131.81L383.03 131.21L383.05 130.61L383.06 130.01L383.08 129.41L383.09 128.81L383.11 128.22L383.12 127.62L383.14 127.02L383.15 126.42L383.17 125.82L383.18 125.22L383.20 124.62L383.21 124.02L383.23 123.42L383.24 122.82L383.26 122.22L383.27 121.62L383.29 121.02L383.31 120.42L383.32 119.82L383.34 119.22L383.35 118.62L383.37 118.02L383.39 117.42L383.40 116.82L383.42 116.22L383.44 115.62L383.45 115.02L383.47 114.42L383.49 113.82L383.50 113.22L383.52 112.62L383.54 112.02L383.56 111.42L383.57 110.82L383.59 110.22L383.61 109.62L383.63 109.02L383.65 108.42L383.67 107.82L383.69 107.22L383.71 106.62L383.72 106.02L383.74 105.42L383.76 104.82L383.78 104.22L383.80 103.63L383.82 103.03L383.84 102.43L383.86 101.83L383.88 101.23L383.90 100.63L383.92 100.03L383.94 99.43L383.96 98.83L383.98 98.23L384.00 97.63L384.03 97.03L384.05 96.43L384.07 95.83L384.09 95.23L384.11 94.63L384.14 94.03L384.16 93.43L384.18 92.83L384.20 92.23L384.23 91.63L384.25 91.03L384.27 90.43L384.30 89.83L384.32 89.23L384.35 88.63L384.37 88.04L384.40 87.44L384.42 86.84L384.45 86.24L384.47 85.64L384.50 85.04L384.52 84.44L384.55 83.84L384.58 83.24L384.61 82.64L384.63 82.04L384.66 81.44L384.69 80.84L384.72 80.24L384.75 79.64L384.78 79.04L384.80 78.44L384.83 77.85L384.86 77.25L384.90 76.65L384.93 76.05L384.96 75.45L384.99 74.85L385.02 74.25L385.05 73.65L385.09 73.05L385.12 72.45L385.15 71.85L385.19 71.25L385.22 70.65L385.25 70.06L385.29 69.46L385.32 68.86L385.36 68.26L385.40 67.66L385.43 67.06L385.47 66.46L385.51 65.86L385.55 65.26L385.58 64.67L385.62 64.07L385.66 63.47L385.70 62.87L385.74 62.27L385.78 61.67L385.82 61.07L385.87 60.48L385.91 59.88L385.95 59.28L386.00 58.68L386.04 58.08L386.09 57.48L386.13 56.89L386.18 56.29L386.23 55.69L386.28 55.09L386.33 54.49L386.38 53.90L386.43 53.30L386.48 52.70L386.54 52.10L386.59 51.50L386.65 50.91L386.70 50.31L386.76 49.71L386.82 49.11L386.87 48.52L386.93 47.92L386.99 47.32L387.05 46.73L387.11 46.13L387.17 45.53L387.24 44.93L387.30 44.34L387.36 43.74L387.43 43.14L387.49 42.55L387.56 41.95L387.63 41.36L387.69 40.76L387.76 40.16L387.83 39.57L387.90 38.97L387.97 38.38L388.04 37.78L388.11 37.18L388.18 36.59L388.26 35.99L388.33 35.39L388.41 34.80L388.49 34.20L388.57 33.60L388.65 33.01L388.73 32.41L388.82 31.82L388.91 31.23L389.00 30.63L389.09 30.04L389.19 29.45L389.29 28.86L389.39 28.27L389.49 27.68L389.60 27.09L389.71 26.50L389.82 25.90L389.93 25.29L390.05 24.67L390.16 24.06L390.29 23.44L390.42 22.82L390.55 22.22L390.70 21.61L390.85 21.02L391.02 20.44L391.19 19.88L391.38 19.33L391.59 18.81L391.81 18.30L392.04 17.82L392.35 17.31L392.73 16.76L393.18 16.22L393.66 15.74L394.17 15.34L394.67 15.08L395.14 15.00L395.63 15.11L396.15 15.38L396.68 15.76L397.20 16.21L397.67 16.69L398.08 17.15L398.41 17.58L398.73 18.04L399.02 18.52L399.29 19.03L399.55 19.56L399.80 20.11L400.04 20.67L400.26 21.24L400.48 21.83L400.69 22.42L400.90 23.01L401.10 23.61L401.30 24.20L401.50 24.79L401.71 25.36L401.91 25.93L402.12 26.49L402.32 27.06L402.51 27.62L402.70 28.19L402.89 28.76L403.08 29.33L403.26 29.90L403.44 30.47L403.61 31.04L403.79 31.62L403.96 32.19L404.14 32.77L404.31 33.34L404.48 33.92L404.65 34.50L404.83 35.07L405.00 35.65L405.17 36.22L405.35 36.80L405.52 37.37L405.70 37.95L405.88 38.52L406.07 39.09L406.25 39.66L406.44 40.23L406.63 40.80L406.83 41.37L407.02 41.93L407.22 42.50L407.41 43.07L407.61 43.63L407.81 44.20L408.01 44.77L408.21 45.33L408.40 45.90L408.60 46.47L408.80 47.03L409.00 47.60L409.19 48.17L409.39 48.74L409.58 49.30L409.77 49.87L409.96 50.44L410.14 51.01L410.33 51.58L410.51 52.15L410.69 52.73L410.87 53.30L411.05 53.87L411.23 54.44L411.40 55.02L411.58 55.59L411.76 56.16L411.93 56.74L412.11 57.31L412.28 57.88L412.45 58.46L412.62 59.03L412.80 59.61L412.97 60.18L413.14 60.76L413.31 61.33L413.48 61.91L413.64 62.48L413.81 63.06L413.98 63.64L414.15 64.21L414.31 64.79L414.48 65.37L414.65 65.94L414.81 66.52L414.98 67.10L415.14 67.67L415.31 68.25L415.47 68.83L415.64 69.40L415.80 69.98L415.97 70.56L416.13 71.14L416.30 71.71L416.46 72.29L416.62 72.87L416.79 73.45L416.95 74.02L417.12 74.60L417.28 75.18L417.44 75.75L417.61 76.33L417.77 76.91L417.94 77.49L418.10 78.06L418.27 78.64L418.43 79.22L418.60 79.79L418.76 80.37L418.93 80.95L419.10 81.52L419.26 82.10L419.43 82.68L419.60 83.25L419.76 83.83L419.93 84.41L420.10 84.98L420.27 85.56L420.44 86.13L420.61 86.71L420.78 87.28L420.96 87.86L421.13 88.43L421.30 89.01L421.47 89.58L421.64 90.16L421.82 90.73L421.99 91.31L422.16 91.88L422.34 92.46L422.51 93.03L422.68 93.60L422.86 94.18L423.03 94.75L423.20 95.33L423.38 95.90L423.55 96.48L423.73 97.05L423.90 97.62L424.07 98.20L424.25 98.77L424.42 99.35L424.60 99.92L424.77 100.49L424.95 101.07L425.12 101.64L425.29 102.22L425.47 102.79L425.64 103.36L425.82 103.94L425.99 104.51L426.17 105.09L426.34 105.66L426.51 106.24L426.69 106.81L426.86 107.38L427.04 107.96L427.21 108.53L427.38 109.11L427.56 109.68L427.73 110.26L427.90 110.83L428.07 111.41L428.24 111.98L428.42 112.56L428.59 113.13L428.76 113.71L428.93 114.28L429.10 114.86L429.27 115.43L429.44 116.01L429.61 116.58L429.79 117.16L429.96 117.73L430.13 118.31L430.30 118.88L430.48 119.46L430.65 120.03L430.82 120.60L431.00 121.18L431.17 121.75L431.35 122.33L431.53 122.90L431.70 123.47L431.88 124.05L432.06 124.62L432.24 125.19L432.42 125.76L432.61 126.33L432.79 126.90L432.97 127.47L433.16 128.05L433.34 128.62L433.53 129.19L433.71 129.76L433.90 130.33L434.09 130.90L434.28 131.47L434.47 132.04L434.66 132.61L434.84 133.18L435.04 133.74L435.23 134.31L435.42 134.88L435.61 135.45L435.80 136.02L436.00 136.59L436.19 137.16L436.38 137.72L436.58 138.29L436.78 138.86L436.97 139.43L437.17 139.99L437.37 140.56L437.56 141.13L437.76 141.69L437.96 142.26L438.16 142.82L438.36 143.39L438.56 143.95L438.76 144.52L438.97 145.08L439.17 145.65L439.37 146.21L439.57 146.78L439.78 147.34L439.98 147.91L440.19 148.47L440.39 149.03L440.60 149.60L440.81 150.16L441.02 150.72L441.22 151.29L441.43 151.85L441.64 152.41L441.85 152.97L442.06 153.53L442.28 154.10L442.49 154.66L442.70 155.22L442.92 155.78L443.14 156.34L443.35 156.90L443.57 157.46L443.79 158.02L444.01 158.57L444.23 159.13L444.45 159.69L444.67 160.25L444.90 160.80L445.12 161.36L445.35 161.91L445.58 162.47L445.81 163.02L446.04 163.58L446.27 164.13L446.51 164.68L446.74 165.23L446.98 165.78L447.22 166.33L447.47 166.88L447.71 167.43L447.96 167.98L448.21 168.52L448.46 169.06L448.72 169.61L448.97 170.15L449.23 170.69L449.49 171.24L449.75 171.78L450.01 172.32L450.27 172.86L450.54 173.40L450.81 173.94L451.08 174.47L451.35 175.01L451.63 175.54L451.90 176.07L452.19 176.60L452.47 177.13L452.76 177.66L453.05 178.18L453.34 178.70L453.64 179.22L453.94 179.74L454.24 180.26L454.54 180.78L454.85 181.30L455.16 181.82L455.47 182.34L455.79 182.86L456.11 183.37L456.43 183.88L456.76 184.39L457.10 184.89L457.44 185.39L457.78 185.88L458.13 186.36L458.48 186.84L458.85 187.31L459.21 187.77L459.59 188.23L459.97 188.68L460.37 189.13L460.77 189.58L461.18 190.03L461.60 190.47L462.03 190.90L462.47 191.33L462.91 191.74L463.36 192.15L463.81 192.55L464.27 192.93L464.74 193.30L465.21 193.66L465.68 194.00L466.17 194.35L466.67 194.70L467.18 195.04L467.69 195.38L468.22 195.70L468.75 196.01L469.29 196.30L469.83 196.56L470.38 196.79L470.93 196.99L471.48 197.15L472.04 197.30L472.62 197.45L473.20 197.60L473.78 197.74L474.38 197.87L474.97 197.99L475.57 198.11L476.18 198.21L476.78 198.30L477.38 198.38L477.98 198.43L478.58 198.48L479.18 198.50L479.77 198.50L480.37 198.48L480.96 198.43L481.56 198.37L482.16 198.30L482.75 198.21L483.35 198.10L483.95 197.99L484.54 197.87L485.14 197.73L485.73 197.60L486.31 197.46L486.90 197.32L487.47 197.18L488.05 197.04L488.62 196.88L489.19 196.71L489.76 196.52L490.32 196.32L490.88 196.11L491.44 195.88L492.00 195.65L492.56 195.41L493.11 195.16L493.66 194.90L494.21 194.65L494.75 194.39L495.30 194.13L495.84 193.88L496.38 193.62L496.91 193.36L497.44 193.08L497.97 192.81L498.50 192.52L499.02 192.23L499.54 191.93L500.06 191.63L500.58 191.33L501.10 191.02L501.62 190.71L502.13 190.40L502.65 190.09L503.16 189.78L503.68 189.47L504.20 189.16L504.71 188.86L505.23 188.55L505.75 188.25L506.28 187.96L506.80 187.66L507.32 187.37L507.84 187.07L508.37 186.78L508.89 186.48L509.41 186.18L509.93 185.89L510.45 185.59L510.98 185.30L511.50 185.00L512.02 184.71L512.55 184.42L513.07 184.13L513.60 183.84L514.13 183.55L514.66 183.27L515.18 182.99L515.72 182.71L516.25 182.43L516.78 182.16L517.31 181.89L517.85 181.62L518.39 181.35L518.92 181.08L519.46 180.82L520.00 180.55L520.54 180.29L521.08 180.03L521.63 179.77L522.17 179.51L522.71 179.26L523.26 179.01L523.80 178.75L524.35 178.50L524.89 178.25L525.44 178.01L525.99 177.76L526.53 177.52L527.08 177.28L527.63 177.03L528.18 176.79L528.73 176.54L529.28 176.30L529.83 176.05L530.38 175.81L530.93 175.57L531.48 175.33L532.04 175.10L532.59 174.86L533.15 174.63L533.70 174.41L534.26 174.19L534.82 173.97L535.38 173.76L535.94 173.56L536.51 173.36L537.07 173.18L537.64 172.99L538.21 172.81L538.78 172.63L539.36 172.46L539.93 172.29L540.51 172.12L541.09 171.96L541.67 171.80L542.25 171.64L542.83 171.49L543.41 171.34L543.99 171.19L544.58 171.04L545.16 170.90L545.75 170.76L546.33 170.62L546.91 170.49L547.50 170.36L548.08 170.23L548.67 170.10L549.26 169.97L549.84 169.85L550.43 169.73L551.02 169.61L551.61 169.50L552.20 169.39L552.79 169.28L553.38 169.17L553.97 169.07L554.57 168.97L555.16 168.87L555.75 168.78L556.34 168.68L556.93 168.59L557.53 168.50L558.12 168.40L558.72 168.31L559.31 168.23L559.91 168.15L560.50 168.07L561.10 168.00L561.69 167.93L562.29 167.87L562.89 167.81L563.48 167.76L564.08 167.71L564.68 167.66L565.27 167.61L565.87 167.56L566.47 167.51L567.07 167.46L567.67 167.42L568.27 167.38L568.87 167.34L569.47 167.30L570.07 167.27L570.67 167.25L571.27 167.23L571.87 167.21L572.47 167.20L573.07 167.20L573.67 167.20L574.27 167.21L574.86 167.21L575.46 167.22L576.06 167.23L576.66 167.24L577.26 167.26L577.86 167.27L578.46 167.29L579.06 167.30L579.66 167.32L580.26 167.34L580.86 167.36L581.46 167.38L582.06 167.40L582.66 167.42L583.26 167.44L583.86 167.46L584.46 167.48L585.06 167.50L585.66 167.52L586.26 167.54L586.86 167.57L587.46 167.59L588.06 167.62L588.66 167.65L589.26 167.68L589.86 167.71L590.46 167.74L591.06 167.77L591.66 167.80L592.26 167.83L592.85 167.86L593.45 167.89L594.05 167.92L594.65 167.94L595.25 167.97L595.85 168.00L596.45 168.02L597.05 168.04L597.65 168.07L598.25 168.08L598.85 168.10L599.45 168.12L600.05 168.13L600.65 168.15L601.25 168.16L601.85 168.18L602.45 168.20L603.05 168.21L603.65 168.23L604.25 168.24L604.85 168.26L605.45 168.27L606.05 168.28L606.65 168.30L607.25 168.31L607.85 168.32L608.45 168.33L609.05 168.34L609.65 168.35L610.25 168.36L610.85 168.37L611.45 168.38L612.05 168.39L612.65 168.39L613.25 168.39L613.85 168.40L614.45 168.40L615.05 168.40L615.65 168.40L616.25 168.40L616.85 168.40L617.45 168.40L618.05 168.40L618.65 168.40L619.25 168.40L619.85 168.40L620.45 168.40L621.05 168.40L621.65 168.40L622.25 168.40L622.85 168.40L623.45 168.40L624.05 168.40L624.65 168.40L625.25 168.40L625.85 168.40L626.45 168.40L627.05 168.40L627.65 168.40L628.25 168.40L628.85 168.40L629.45 168.40L630.05 168.40L630.65 168.40L631.25 168.40L631.85 168.40L632.45 168.40L633.05 168.40L633.65 168.40L634.25 168.40L634.85 168.40L635.45 168.40L636.05 168.40L636.65 168.40L637.24 168.40L637.84 168.40L638.44 168.40L639.04 168.40L639.64 168.40L640.24 168.40L640.84 168.40L641.44 168.40L642.04 168.40L642.64 168.40L643.24 168.40L643.84 168.40L644.44 168.40L645.04 168.40L645.64 168.40L646.24 168.40L646.84 168.40L647.44 168.40L648.04 168.40L648.64 168.40L649.24 168.40L649.84 168.40L650.44 168.40L651.04 168.40L651.64 168.40L652.24 168.40L652.84 168.40L653.44 168.40L654.04 168.40L654.64 168.40L655.24 168.40L655.84 168.40L656.44 168.40L657.04 168.40L657.64 168.40L658.24 168.40L658.84 168.40L659.44 168.40L660.04 168.40L660.64 168.40L661.24 168.40L661.84 168.40L662.44 168.40L663.04 168.40L663.64 168.40L664.24 168.40L664.84 168.40L665.44 168.40L666.04 168.40L666.64 168.40L667.24 168.40L667.84 168.40L668.44 168.40L669.04 168.40L669.64 168.40L670.24 168.40L670.84 168.40L671.44 168.40L672.04 168.40L672.64 168.40L673.24 168.40L673.84 168.40L674.44 168.40L675.04 168.40L675.64 168.40L676.24 168.40L676.84 168.40L677.44 168.40L678.04 168.40L678.64 168.40L679.24 168.40L679.84 168.40L680.44 168.40L681.05 168.40L681.65 168.40L682.25 168.40L682.85 168.40L683.45 168.40L684.05 168.40L684.65 168.40L685.25 168.40L685.85 168.40L686.45 168.40L687.05 168.40L687.65 168.40L688.25 168.40L688.85 168.40L689.45 168.40L690.05 168.40L690.65 168.40L691.25 168.40L691.85 168.40L692.45 168.40L693.05 168.40L693.65 168.40L694.25 168.40L694.85 168.40L695.45 168.40L696.05 168.40L696.65 168.40L697.25 168.40L697.85 168.40L698.00 168.40" stroke="#cc0404" stroke-width="1.85" stroke-dasharray="9.5 3.26" stroke-dashoffset="0.7"/>
</g>
<g clip-path="url(#cpc)" fill="none" stroke-linejoin="round">
<path d="M66.20 390.00L66.21 389.40L66.22 388.80L66.22 388.20L66.23 387.60L66.24 387.00L66.25 386.40L66.25 385.80L66.26 385.20L66.27 384.60L66.28 384.00L66.29 383.40L66.30 382.80L66.31 382.20L66.31 381.60L66.32 381.00L66.33 380.40L66.34 379.80L66.35 379.20L66.36 378.60L66.37 378.00L66.38 377.40L66.39 376.80L66.40 376.20L66.41 375.60L66.42 375.00L66.43 374.40L66.44 373.80L66.45 373.20L66.46 372.60L66.47 372.00L66.48 371.40L66.49 370.80L66.50 370.20L66.51 369.60L66.52 369.00L66.53 368.40L66.54 367.80L66.55 367.20L66.56 366.60L66.57 366.00L66.58 365.40L66.59 364.80L66.60 364.20L66.62 363.60L66.63 363.00L66.64 362.40L66.65 361.80L66.66 361.20L66.68 360.60L66.69 360.00L66.70 359.40L66.71 358.80L66.72 358.20L66.74 357.60L66.75 357.00L66.76 356.40L66.77 355.80L66.79 355.21L66.80 354.61L66.81 354.01L66.83 353.41L66.84 352.81L66.85 352.21L66.86 351.61L66.88 351.01L66.89 350.41L66.90 349.81L66.92 349.21L66.93 348.61L66.94 348.01L66.96 347.41L66.97 346.81L66.99 346.21L67.00 345.61L67.01 345.01L67.03 344.41L67.04 343.81L67.06 343.21L67.07 342.61L67.09 342.01L67.10 341.41L67.12 340.81L67.13 340.21L67.15 339.61L67.16 339.01L67.18 338.41L67.19 337.81L67.21 337.21L67.22 336.61L67.24 336.01L67.26 335.41L67.27 334.81L67.29 334.21L67.30 333.61L67.32 333.01L67.33 332.41L67.35 331.81L67.37 331.21L67.38 330.61L67.40 330.01L67.42 329.41L67.43 328.81L67.45 328.21L67.46 327.61L67.48 327.01L67.50 326.41L67.51 325.81L67.53 325.21L67.55 324.61L67.56 324.01L67.58 323.41L67.59 322.81L67.61 322.22L67.63 321.62L67.64 321.02L67.66 320.42L67.68 319.82L67.70 319.22L67.71 318.62L67.73 318.02L67.75 317.42L67.77 316.82L67.79 316.22L67.80 315.62L67.82 315.02L67.84 314.42L67.86 313.82L67.88 313.22L67.90 312.62L67.93 312.02L67.95 311.42L67.97 310.82L67.99 310.22L68.01 309.62L68.04 309.02L68.06 308.42L68.09 307.82L68.11 307.22L68.14 306.62L68.16 306.02L68.19 305.42L68.22 304.83L68.24 304.23L68.27 303.63L68.30 303.03L68.33 302.43L68.36 301.83L68.39 301.23L68.43 300.63L68.46 300.03L68.49 299.43L68.53 298.83L68.56 298.23L68.60 297.63L68.63 297.04L68.67 296.44L68.71 295.84L68.75 295.24L68.79 294.64L68.84 294.04L68.88 293.45L68.93 292.85L68.98 292.25L69.03 291.65L69.08 291.05L69.13 290.46L69.18 289.86L69.24 289.26L69.30 288.66L69.35 288.06L69.41 287.47L69.47 286.87L69.53 286.27L69.60 285.68L69.66 285.08L69.72 284.48L69.79 283.89L69.86 283.29L69.92 282.70L69.99 282.10L70.06 281.50L70.13 280.91L70.21 280.31L70.29 279.72L70.36 279.12L70.44 278.53L70.52 277.93L70.61 277.34L70.69 276.74L70.78 276.15L70.87 275.55L70.96 274.96L71.05 274.37L71.15 273.77L71.24 273.18L71.34 272.59L71.44 272.00L71.54 271.41L71.64 270.82L71.75 270.23L71.86 269.64L71.97 269.05L72.08 268.46L72.20 267.87L72.32 267.28L72.45 266.70L72.58 266.11L72.71 265.52L72.84 264.94L72.98 264.35L73.12 263.77L73.27 263.19L73.42 262.61L73.57 262.03L73.72 261.44L73.87 260.85L74.02 260.25L74.17 259.65L74.33 259.05L74.50 258.44L74.67 257.85L74.85 257.26L75.04 256.69L75.24 256.13L75.46 255.59L75.70 255.08L75.95 254.59L76.24 254.10L76.59 253.57L76.99 253.02L77.44 252.49L77.91 251.98L78.40 251.54L78.90 251.18L79.40 250.92L79.88 250.81L80.35 250.85L80.86 251.05L81.38 251.37L81.91 251.78L82.41 252.24L82.88 252.71L83.29 253.17L83.64 253.60L83.98 254.06L84.29 254.54L84.59 255.04L84.87 255.57L85.14 256.11L85.40 256.67L85.66 257.23L85.90 257.81L86.14 258.38L86.37 258.96L86.61 259.53L86.84 260.10L87.08 260.65L87.31 261.20L87.55 261.75L87.77 262.31L88.00 262.86L88.21 263.42L88.43 263.98L88.64 264.54L88.85 265.10L89.06 265.67L89.27 266.23L89.47 266.80L89.68 267.36L89.88 267.93L90.08 268.50L90.28 269.06L90.49 269.63L90.69 270.19L90.89 270.76L91.10 271.32L91.30 271.88L91.50 272.45L91.71 273.01L91.91 273.58L92.11 274.14L92.31 274.71L92.51 275.28L92.71 275.84L92.91 276.41L93.10 276.97L93.30 277.54L93.50 278.11L93.69 278.68L93.88 279.24L94.08 279.81L94.27 280.38L94.46 280.95L94.65 281.52L94.84 282.09L95.02 282.66L95.21 283.23L95.39 283.80L95.57 284.37L95.75 284.95L95.93 285.52L96.10 286.09L96.28 286.67L96.45 287.24L96.63 287.81L96.80 288.39L96.97 288.96L97.15 289.54L97.32 290.11L97.49 290.69L97.66 291.26L97.84 291.84L98.01 292.41L98.19 292.99L98.36 293.56L98.54 294.13L98.72 294.70L98.90 295.28L99.08 295.85L99.26 296.42L99.43 297.00L99.61 297.57L99.79 298.14L99.97 298.71L100.15 299.29L100.33 299.86L100.51 300.43L100.69 301.00L100.87 301.58L101.05 302.15L101.23 302.72L101.41 303.29L101.59 303.87L101.77 304.44L101.95 305.01L102.14 305.58L102.32 306.15L102.50 306.72L102.68 307.30L102.86 307.87L103.05 308.44L103.23 309.01L103.41 309.58L103.60 310.15L103.78 310.72L103.96 311.30L104.15 311.87L104.33 312.44L104.52 313.01L104.70 313.58L104.89 314.15L105.07 314.72L105.26 315.29L105.45 315.86L105.63 316.43L105.82 317.00L106.00 317.57L106.19 318.14L106.38 318.71L106.56 319.28L106.75 319.85L106.94 320.42L107.12 321.00L107.31 321.57L107.50 322.14L107.68 322.71L107.87 323.28L108.06 323.85L108.25 324.42L108.43 324.99L108.62 325.56L108.81 326.13L109.00 326.70L109.19 327.26L109.38 327.83L109.57 328.40L109.76 328.97L109.95 329.54L110.14 330.11L110.33 330.68L110.52 331.25L110.71 331.82L110.90 332.39L111.10 332.95L111.29 333.52L111.48 334.09L111.68 334.66L111.87 335.23L112.06 335.79L112.26 336.36L112.46 336.93L112.65 337.49L112.85 338.06L113.05 338.63L113.24 339.19L113.44 339.76L113.64 340.33L113.84 340.89L114.04 341.46L114.24 342.02L114.44 342.59L114.64 343.15L114.84 343.72L115.04 344.29L115.24 344.85L115.44 345.42L115.64 345.99L115.84 346.56L116.04 347.12L116.24 347.69L116.44 348.26L116.64 348.83L116.84 349.39L117.04 349.96L117.25 350.53L117.45 351.09L117.66 351.66L117.87 352.22L118.08 352.78L118.29 353.35L118.50 353.91L118.71 354.47L118.93 355.03L119.15 355.58L119.37 356.14L119.60 356.70L119.82 357.25L120.05 357.80L120.28 358.35L120.52 358.90L120.76 359.45L121.00 359.99L121.24 360.54L121.49 361.08L121.74 361.63L121.99 362.18L122.24 362.72L122.50 363.27L122.76 363.81L123.02 364.36L123.29 364.90L123.56 365.44L123.83 365.98L124.11 366.52L124.39 367.06L124.67 367.59L124.96 368.13L125.25 368.66L125.54 369.18L125.84 369.70L126.14 370.22L126.44 370.74L126.75 371.25L127.07 371.76L127.38 372.26L127.71 372.76L128.03 373.25L128.36 373.74L128.70 374.23L129.04 374.72L129.40 375.21L129.75 375.70L130.12 376.19L130.49 376.68L130.86 377.16L131.25 377.64L131.64 378.11L132.03 378.58L132.43 379.04L132.84 379.49L133.26 379.93L133.68 380.36L134.10 380.77L134.53 381.18L134.97 381.57L135.41 381.95L135.86 382.31L136.33 382.67L136.80 383.03L137.29 383.38L137.79 383.72L138.30 384.06L138.81 384.39L139.34 384.71L139.87 385.01L140.40 385.31L140.94 385.59L141.49 385.86L142.03 386.11L142.58 386.35L143.12 386.57L143.67 386.78L144.23 386.98L144.79 387.18L145.35 387.38L145.93 387.57L146.50 387.75L147.08 387.93L147.67 388.10L148.25 388.26L148.84 388.41L149.43 388.55L150.02 388.69L150.62 388.80L151.21 388.91L151.80 389.01L152.39 389.09L152.98 389.16L153.57 389.23L154.16 389.29L154.76 389.36L155.35 389.42L155.95 389.48L156.55 389.54L157.14 389.60L157.74 389.65L158.35 389.70L158.95 389.75L159.55 389.79L160.15 389.83L160.75 389.86L161.35 389.89L161.95 389.91L162.55 389.93L163.16 389.94L163.75 389.95L164.35 389.95L164.95 389.95L165.55 389.95L166.15 389.95L166.75 389.96L167.35 389.96L167.95 389.96L168.55 389.96L169.15 389.96L169.74 389.96L170.34 389.96L170.94 389.96L171.54 389.96L172.14 389.97L172.74 389.97L173.34 389.97L173.94 389.97L174.54 389.97L175.14 389.97L175.73 389.97L176.33 389.97L176.93 389.97L177.53 389.97L178.13 389.98L178.73 389.98L179.33 389.98L179.93 389.98L180.53 389.98L181.13 389.98L181.72 389.98L182.32 389.98L182.92 389.98L183.52 389.98L184.12 389.99L184.72 389.99L185.32 389.99L185.92 389.99L186.52 389.99L187.12 389.99L187.72 389.99L188.31 389.99L188.91 389.99L189.51 389.99L190.11 390.00L190.71 390.00L191.31 390.00L191.91 390.00L192.51 390.00L193.11 390.00L193.71 390.00L194.31 390.00L194.90 390.00L195.50 390.00L196.10 390.00L196.70 390.01L197.30 390.01L197.90 390.01L198.50 390.01L199.10 390.01L199.70 390.01L200.30 390.01L200.90 390.01L201.50 390.01L202.09 390.01L202.69 390.01L203.29 390.01L203.89 390.01L204.49 390.02L205.09 390.02L205.69 390.02L206.29 390.02L206.89 390.02L207.49 390.02L208.09 390.02L208.69 390.02L209.29 390.02L209.88 390.02L210.48 390.02L211.08 390.02L211.68 390.02L212.28 390.03L212.88 390.03L213.48 390.03L214.08 390.03L214.68 390.03L215.28 390.03L215.88 390.03L216.48 390.03L217.08 390.03L217.67 390.03L218.27 390.03L218.87 390.03L219.47 390.03L220.07 390.03L220.67 390.04L221.27 390.04L221.87 390.04L222.47 390.04L223.07 390.04L223.67 390.04L224.27 390.04L224.87 390.04L225.47 390.04L226.07 390.04L226.67 390.04L227.26 390.04L227.86 390.04L228.46 390.04L229.06 390.04L229.66 390.04L230.26 390.05L230.86 390.05L231.46 390.05L232.06 390.05L232.66 390.05L233.26 390.05L233.86 390.05L234.46 390.05L235.06 390.05L235.66 390.05L236.26 390.05L236.86 390.05L237.46 390.05L238.05 390.05L238.65 390.05L239.25 390.05L239.85 390.05L240.45 390.06L241.05 390.06L241.65 390.06L242.25 390.06L242.85 390.06L243.45 390.06L244.05 390.06L244.65 390.06L245.25 390.06L245.85 390.06L246.45 390.06L247.05 390.06L247.65 390.06L248.25 390.06L248.85 390.06L249.45 390.06L250.05 390.06L250.65 390.06L251.25 390.06L251.84 390.06L252.44 390.06L253.04 390.07L253.64 390.07L254.24 390.07L254.84 390.07L255.44 390.07L256.04 390.07L256.64 390.07L257.24 390.07L257.84 390.07L258.44 390.07L259.04 390.07L259.64 390.07L260.24 390.07L260.84 390.07L261.44 390.07L262.04 390.07L262.64 390.07L263.24 390.07L263.84 390.07L264.44 390.07L265.04 390.07L265.64 390.07L266.24 390.07L266.84 390.07L267.44 390.07L268.04 390.08L268.64 390.08L269.24 390.08L269.84 390.08L270.44 390.08L271.04 390.08L271.64 390.08L272.24 390.08L272.84 390.08L273.44 390.08L274.04 390.08L274.64 390.08L275.24 390.08L275.84 390.08L276.44 390.08L277.04 390.08L277.64 390.08L278.24 390.08L278.84 390.08L279.44 390.08L280.04 390.08L280.64 390.08L281.24 390.08L281.84 390.08L282.44 390.08L283.04 390.08L283.64 390.08L284.24 390.08L284.84 390.08L285.44 390.08L286.04 390.08L286.64 390.08L287.24 390.08L287.84 390.09L288.44 390.09L289.04 390.09L289.64 390.09L290.24 390.09L290.84 390.09L291.44 390.09L292.04 390.09L292.64 390.09L293.24 390.09L293.84 390.09L294.44 390.09L295.04 390.09L295.64 390.09L296.24 390.09L296.84 390.09L297.44 390.09L298.04 390.09L298.64 390.09L299.24 390.09L299.84 390.09L300.44 390.09L301.04 390.09L301.64 390.09L302.24 390.09L302.84 390.09L303.44 390.09L304.04 390.09L304.64 390.09L305.24 390.09L305.84 390.09L306.44 390.09L307.04 390.09L307.64 390.09L308.24 390.09L308.84 390.09L309.44 390.09L310.04 390.09L310.64 390.09L311.24 390.09L311.85 390.09L312.45 390.09L313.05 390.09L313.65 390.09L314.25 390.09L314.85 390.09L315.45 390.09L316.05 390.09L316.65 390.09L317.25 390.09L317.85 390.09L318.45 390.09L319.05 390.09L319.65 390.09L320.25 390.10L320.85 390.10L321.45 390.10L322.05 390.10L322.65 390.10L323.25 390.10L323.85 390.10L324.46 390.10L325.06 390.10L325.66 390.10L326.26 390.10L326.86 390.10L327.46 390.10L328.06 390.10L328.66 390.10L329.26 390.10L329.86 390.10L330.46 390.10L331.06 390.10L331.66 390.10L332.26 390.10L332.86 390.10L333.47 390.10L334.07 390.10L334.67 390.10L335.27 390.10L335.87 390.10L336.47 390.10L337.07 390.10L337.67 390.10L338.27 390.10L338.87 390.10L339.47 390.10L340.07 390.10L340.67 390.10L341.28 390.10L341.88 390.10L342.48 390.10L343.08 390.10L343.68 390.10L344.28 390.10L344.88 390.10L345.48 390.10L346.08 390.10L346.68 390.10L347.28 390.10L347.89 390.10L348.49 390.10L349.09 390.10L349.69 390.10L350.29 390.10L350.89 390.10L351.49 390.10L352.09 390.10L352.69 390.10L353.29 390.10L353.90 390.10L354.50 390.10L355.10 390.10L355.70 390.10L356.30 390.10L356.90 390.10L357.50 390.10L358.10 390.10L358.70 390.10L359.31 390.10L359.91 390.10L360.51 390.10L361.11 390.10L361.71 390.10L362.31 390.10L362.91 390.10L363.51 390.10L364.12 390.10L364.72 390.10L365.32 390.10L365.92 390.10L366.52 390.10L367.12 390.10L367.72 390.10L368.32 390.10L368.93 390.10L369.53 390.10L370.13 390.10L370.73 390.10L371.33 390.10L371.93 390.10L372.53 390.10L373.14 390.10L373.74 390.10L374.34 390.10L374.94 390.10L375.54 390.10L376.14 390.10L376.74 390.10L377.35 390.10L377.95 390.10L378.55 390.10L379.15 390.10L379.75 390.10L380.35 390.10L380.95 390.10L381.00 390.10" stroke="#0404cc" stroke-width="1.85"/>
<path d="M66.20 390.00L66.21 389.40L66.22 388.80L66.23 388.20L66.24 387.60L66.25 387.00L66.26 386.40L66.28 385.80L66.29 385.20L66.30 384.60L66.31 384.00L66.32 383.40L66.33 382.80L66.34 382.20L66.36 381.60L66.37 381.00L66.38 380.40L66.39 379.80L66.40 379.20L66.42 378.60L66.43 378.00L66.44 377.40L66.45 376.80L66.47 376.20L66.48 375.60L66.49 375.00L66.50 374.40L66.52 373.80L66.53 373.20L66.54 372.60L66.56 372.00L66.57 371.40L66.58 370.80L66.60 370.20L66.61 369.60L66.62 369.00L66.64 368.40L66.65 367.80L66.66 367.20L66.68 366.60L66.69 366.00L66.70 365.41L66.72 364.81L66.73 364.21L66.74 363.61L66.76 363.01L66.77 362.41L66.79 361.81L66.80 361.21L66.81 360.61L66.83 360.01L66.84 359.41L66.86 358.81L66.87 358.21L66.89 357.61L66.90 357.01L66.92 356.41L66.93 355.81L66.95 355.21L66.97 354.61L66.98 354.01L67.00 353.41L67.02 352.81L67.03 352.21L67.05 351.61L67.07 351.01L67.09 350.41L67.11 349.81L67.12 349.21L67.14 348.61L67.16 348.01L67.18 347.41L67.20 346.81L67.22 346.21L67.24 345.61L67.27 345.01L67.29 344.41L67.31 343.81L67.33 343.21L67.35 342.61L67.38 342.01L67.40 341.42L67.42 340.82L67.45 340.22L67.47 339.62L67.50 339.02L67.52 338.42L67.55 337.82L67.57 337.22L67.60 336.62L67.62 336.02L67.65 335.42L67.68 334.82L67.70 334.22L67.73 333.62L67.76 333.02L67.78 332.42L67.81 331.82L67.84 331.22L67.87 330.63L67.90 330.03L67.93 329.43L67.96 328.83L67.99 328.23L68.02 327.63L68.06 327.03L68.09 326.43L68.13 325.83L68.16 325.23L68.20 324.64L68.24 324.04L68.28 323.44L68.32 322.84L68.35 322.24L68.39 321.64L68.43 321.04L68.47 320.44L68.51 319.84L68.55 319.25L68.59 318.65L68.63 318.05L68.67 317.45L68.71 316.85L68.75 316.25L68.78 315.65L68.82 315.05L68.86 314.46L68.89 313.86L68.93 313.26L68.96 312.66L69.00 312.06L69.03 311.46L69.06 310.86L69.09 310.26L69.12 309.66L69.15 309.06L69.18 308.46L69.21 307.87L69.24 307.27L69.27 306.67L69.30 306.07L69.32 305.47L69.35 304.87L69.38 304.27L69.41 303.67L69.44 303.07L69.47 302.47L69.49 301.87L69.52 301.27L69.55 300.67L69.58 300.07L69.61 299.47L69.64 298.88L69.67 298.28L69.71 297.68L69.74 297.08L69.77 296.48L69.81 295.88L69.84 295.28L69.88 294.68L69.91 294.08L69.95 293.48L69.99 292.89L70.03 292.29L70.06 291.69L70.10 291.09L70.14 290.49L70.18 289.89L70.22 289.29L70.27 288.69L70.31 288.10L70.35 287.50L70.39 286.90L70.44 286.30L70.48 285.70L70.53 285.10L70.57 284.51L70.62 283.91L70.67 283.31L70.72 282.71L70.76 282.11L70.81 281.52L70.86 280.92L70.91 280.32L70.96 279.72L71.01 279.12L71.06 278.52L71.11 277.92L71.16 277.33L71.22 276.73L71.27 276.13L71.33 275.53L71.38 274.93L71.44 274.33L71.50 273.74L71.56 273.14L71.62 272.54L71.68 271.95L71.75 271.35L71.81 270.75L71.88 270.16L71.95 269.56L72.02 268.97L72.10 268.37L72.17 267.78L72.25 267.19L72.33 266.59L72.41 266.00L72.50 265.41L72.60 264.82L72.70 264.22L72.80 263.63L72.91 263.04L73.03 262.45L73.14 261.86L73.26 261.27L73.38 260.68L73.51 260.10L73.64 259.51L73.77 258.92L73.90 258.34L74.03 257.75L74.16 257.17L74.29 256.58L74.42 255.98L74.55 255.36L74.67 254.74L74.80 254.12L74.93 253.49L75.06 252.87L75.20 252.26L75.35 251.65L75.50 251.06L75.68 250.49L75.86 249.94L76.06 249.41L76.28 248.91L76.52 248.45L76.80 247.99L77.19 247.51L77.65 247.02L78.17 246.57L78.72 246.21L79.26 245.97L79.77 245.90L80.28 246.00L80.82 246.22L81.37 246.53L81.92 246.92L82.43 247.35L82.91 247.79L83.32 248.21L83.68 248.62L84.01 249.07L84.33 249.54L84.62 250.04L84.91 250.57L85.18 251.11L85.44 251.68L85.69 252.25L85.93 252.83L86.17 253.41L86.40 253.99L86.63 254.57L86.86 255.14L87.10 255.70L87.33 256.25L87.56 256.80L87.79 257.35L88.01 257.91L88.23 258.47L88.45 259.03L88.66 259.59L88.87 260.15L89.08 260.72L89.29 261.28L89.49 261.85L89.69 262.41L89.89 262.98L90.09 263.55L90.29 264.12L90.48 264.68L90.68 265.25L90.87 265.82L91.07 266.38L91.26 266.95L91.45 267.52L91.64 268.09L91.82 268.66L92.01 269.23L92.19 269.80L92.38 270.37L92.56 270.95L92.74 271.52L92.92 272.09L93.10 272.66L93.27 273.24L93.45 273.81L93.63 274.38L93.80 274.96L93.98 275.53L94.15 276.11L94.33 276.68L94.51 277.25L94.68 277.83L94.86 278.40L95.03 278.98L95.21 279.55L95.38 280.12L95.56 280.70L95.73 281.27L95.91 281.85L96.08 282.42L96.25 282.99L96.42 283.57L96.60 284.14L96.77 284.72L96.94 285.29L97.11 285.87L97.28 286.44L97.45 287.02L97.62 287.59L97.79 288.17L97.96 288.75L98.13 289.32L98.30 289.90L98.47 290.47L98.64 291.05L98.81 291.62L98.98 292.20L99.14 292.78L99.31 293.35L99.48 293.93L99.65 294.50L99.81 295.08L99.98 295.66L100.15 296.23L100.31 296.81L100.48 297.39L100.64 297.96L100.81 298.54L100.98 299.12L101.14 299.69L101.30 300.27L101.47 300.85L101.63 301.43L101.80 302.00L101.96 302.58L102.12 303.16L102.29 303.73L102.45 304.31L102.62 304.89L102.78 305.47L102.94 306.04L103.10 306.62L103.27 307.20L103.43 307.78L103.59 308.35L103.76 308.93L103.92 309.51L104.08 310.09L104.24 310.66L104.41 311.24L104.57 311.82L104.73 312.40L104.90 312.97L105.06 313.55L105.22 314.13L105.38 314.71L105.55 315.28L105.71 315.86L105.87 316.44L106.03 317.02L106.19 317.60L106.35 318.17L106.51 318.75L106.67 319.33L106.83 319.91L106.99 320.49L107.14 321.07L107.30 321.65L107.46 322.23L107.62 322.80L107.78 323.38L107.94 323.96L108.09 324.54L108.25 325.12L108.41 325.70L108.57 326.28L108.73 326.86L108.89 327.44L109.05 328.01L109.20 328.59L109.36 329.17L109.52 329.75L109.68 330.33L109.84 330.91L110.00 331.48L110.16 332.06L110.33 332.64L110.49 333.22L110.65 333.80L110.81 334.37L110.98 334.95L111.14 335.53L111.30 336.10L111.47 336.68L111.64 337.26L111.80 337.83L111.97 338.41L112.14 338.99L112.31 339.56L112.47 340.14L112.65 340.71L112.82 341.29L112.99 341.86L113.16 342.44L113.33 343.01L113.51 343.58L113.68 344.16L113.86 344.73L114.04 345.30L114.21 345.88L114.39 346.45L114.57 347.02L114.75 347.60L114.93 348.17L115.11 348.74L115.29 349.31L115.48 349.88L115.66 350.46L115.84 351.03L116.02 351.60L116.21 352.17L116.39 352.74L116.58 353.31L116.77 353.88L116.95 354.45L117.14 355.02L117.33 355.59L117.52 356.16L117.71 356.73L117.89 357.30L118.08 357.87L118.28 358.44L118.47 359.01L118.66 359.58L118.85 360.14L119.04 360.71L119.24 361.28L119.43 361.85L119.63 362.41L119.82 362.98L120.02 363.55L120.22 364.11L120.42 364.68L120.62 365.25L120.82 365.81L121.02 366.38L121.22 366.94L121.43 367.51L121.63 368.07L121.83 368.64L122.03 369.20L122.24 369.76L122.44 370.33L122.65 370.89L122.85 371.46L123.06 372.02L123.26 372.59L123.46 373.15L123.67 373.71L123.87 374.28L124.08 374.84L124.28 375.41L124.48 375.97L124.69 376.54L124.89 377.10L125.09 377.67L125.29 378.23L125.49 378.80L125.69 379.36L125.90 379.93L126.10 380.49L126.30 381.06L126.50 381.62L126.70 382.19L126.90 382.75L127.11 383.32L127.31 383.88L127.51 384.45L127.72 385.01L127.92 385.58L128.13 386.14L128.33 386.70L128.54 387.27L128.75 387.83L128.96 388.39L129.17 388.95L129.38 389.51L129.59 390.08L129.80 390.64L130.01 391.20L130.23 391.76L130.44 392.32L130.65 392.88L130.86 393.45L131.07 394.01L131.29 394.57L131.50 395.13L131.71 395.69L131.93 396.25L132.14 396.81L132.36 397.37L132.57 397.93L132.79 398.49L133.01 399.05L133.23 399.61L133.45 400.17L133.68 400.73L133.90 401.28L134.12 401.84L134.35 402.40L134.58 402.95L134.81 403.50L135.04 404.06L135.27 404.61L135.51 405.16L135.74 405.71L135.98 406.26L136.22 406.81L136.46 407.36L136.70 407.91L136.94 408.47L137.18 409.02L137.42 409.57L137.66 410.13L137.91 410.68L138.15 411.24L138.40 411.79L138.65 412.34L138.90 412.89L139.15 413.44L139.41 413.99L139.67 414.53L139.94 415.07L140.20 415.61L140.47 416.14L140.75 416.67L141.03 417.20L141.32 417.72L141.61 418.24L141.91 418.76L142.21 419.26L142.52 419.77L142.83 420.26L143.16 420.76L143.49 421.26L143.83 421.75L144.18 422.24L144.54 422.73L144.91 423.21L145.28 423.69L145.66 424.17L146.05 424.64L146.45 425.10L146.84 425.55L147.25 426.00L147.66 426.44L148.07 426.88L148.49 427.30L148.91 427.71L149.34 428.12L149.77 428.53L150.22 428.93L150.67 429.33L151.14 429.73L151.61 430.12L152.08 430.50L152.57 430.87L153.06 431.23L153.56 431.58L154.06 431.91L154.57 432.22L155.08 432.52L155.59 432.80L156.12 433.06L156.65 433.32L157.19 433.58L157.75 433.83L158.30 434.08L158.87 434.31L159.44 434.52L160.01 434.73L160.59 434.91L161.17 435.07L161.75 435.21L162.33 435.32L162.91 435.43L163.50 435.54L164.10 435.64L164.70 435.73L165.30 435.81L165.90 435.88L166.50 435.94L167.10 435.98L167.70 436.00L168.28 435.99L168.87 435.95L169.46 435.87L170.05 435.76L170.64 435.63L171.23 435.48L171.81 435.30L172.40 435.11L172.98 434.91L173.55 434.70L174.12 434.49L174.69 434.28L175.25 434.07L175.80 433.86L176.35 433.65L176.90 433.42L177.44 433.18L177.98 432.93L178.52 432.66L179.06 432.38L179.59 432.09L180.11 431.80L180.64 431.49L181.16 431.19L181.68 430.87L182.20 430.55L182.71 430.23L183.22 429.91L183.73 429.58L184.24 429.26L184.74 428.94L185.24 428.61L185.74 428.28L186.23 427.95L186.72 427.61L187.21 427.26L187.70 426.91L188.18 426.55L188.66 426.19L189.14 425.82L189.61 425.46L190.09 425.09L190.56 424.72L191.04 424.34L191.51 423.97L191.98 423.60L192.46 423.23L192.93 422.86L193.40 422.49L193.88 422.12L194.35 421.75L194.83 421.38L195.30 421.02L195.77 420.65L196.24 420.27L196.71 419.90L197.18 419.53L197.65 419.16L198.12 418.78L198.59 418.41L199.06 418.04L199.53 417.66L200.00 417.28L200.47 416.91L200.93 416.53L201.40 416.16L201.87 415.78L202.33 415.40L202.80 415.03L203.27 414.65L203.74 414.27L204.20 413.90L204.67 413.52L205.14 413.15L205.61 412.77L206.07 412.39L206.54 412.01L207.00 411.63L207.47 411.25L207.93 410.86L208.39 410.48L208.85 410.09L209.31 409.71L209.77 409.32L210.24 408.94L210.70 408.55L211.16 408.17L211.63 407.79L212.09 407.41L212.56 407.03L213.02 406.65L213.49 406.28L213.96 405.91L214.44 405.54L214.91 405.18L215.39 404.82L215.87 404.46L216.35 404.11L216.84 403.76L217.32 403.41L217.81 403.07L218.30 402.72L218.80 402.38L219.29 402.04L219.79 401.70L220.28 401.36L220.78 401.02L221.29 400.69L221.79 400.36L222.29 400.03L222.80 399.71L223.31 399.38L223.82 399.06L224.33 398.75L224.84 398.43L225.35 398.12L225.87 397.81L226.38 397.51L226.90 397.21L227.42 396.91L227.94 396.62L228.46 396.33L228.99 396.04L229.52 395.76L230.05 395.48L230.58 395.20L231.11 394.92L231.65 394.64L232.19 394.37L232.72 394.11L233.27 393.84L233.81 393.58L234.35 393.33L234.90 393.08L235.45 392.83L235.99 392.59L236.54 392.35L237.09 392.12L237.65 391.89L238.20 391.65L238.76 391.42L239.32 391.19L239.88 390.96L240.44 390.74L241.00 390.53L241.57 390.33L242.14 390.14L242.71 389.97L243.28 389.81L243.86 389.66L244.44 389.53L245.02 389.40L245.61 389.27L246.20 389.15L246.79 389.04L247.38 388.93L247.97 388.83L248.57 388.73L249.17 388.64L249.76 388.55L250.36 388.48L250.95 388.41L251.55 388.34L252.14 388.27L252.74 388.20L253.33 388.13L253.93 388.06L254.53 388.00L255.13 387.94L255.73 387.89L256.33 387.84L256.93 387.79L257.52 387.76L258.12 387.73L258.72 387.71L259.32 387.70L259.92 387.70L260.52 387.71L261.12 387.71L261.72 387.72L262.32 387.74L262.92 387.75L263.52 387.77L264.12 387.79L264.72 387.81L265.32 387.83L265.92 387.86L266.52 387.88L267.12 387.90L267.72 387.93L268.32 387.97L268.91 388.01L269.51 388.06L270.11 388.11L270.71 388.16L271.31 388.22L271.90 388.28L272.50 388.33L273.10 388.39L273.70 388.45L274.29 388.51L274.89 388.56L275.49 388.62L276.09 388.67L276.68 388.72L277.28 388.78L277.88 388.84L278.48 388.90L279.07 388.95L279.67 389.01L280.27 389.07L280.87 389.14L281.46 389.20L282.06 389.26L282.66 389.32L283.26 389.38L283.85 389.43L284.45 389.49L285.05 389.55L285.65 389.60L286.24 389.65L286.84 389.71L287.44 389.75L288.04 389.80L288.64 389.84L289.23 389.89L289.83 389.92L290.43 389.96L291.03 389.99L291.63 390.02L292.23 390.05L292.83 390.08L293.42 390.11L294.02 390.14L294.62 390.17L295.22 390.19L295.82 390.22L296.42 390.25L297.02 390.28L297.62 390.30L298.22 390.33L298.82 390.35L299.42 390.38L300.02 390.40L300.62 390.42L301.22 390.44L301.82 390.46L302.42 390.48L303.02 390.50L303.62 390.52L304.22 390.53L304.82 390.55L305.42 390.56L306.02 390.57L306.62 390.58L307.22 390.59L307.82 390.59L308.42 390.60L309.02 390.60L309.62 390.60L310.22 390.60L310.82 390.60L311.42 390.60L312.02 390.60L312.62 390.60L313.22 390.60L313.82 390.60L314.42 390.60L315.02 390.60L315.62 390.60L316.22 390.60L316.82 390.60L317.42 390.60L318.02 390.60L318.62 390.60L319.22 390.60L319.82 390.60L320.42 390.60L321.02 390.60L321.62 390.60L322.22 390.60L322.82 390.60L323.42 390.60L324.02 390.60L324.62 390.60L325.22 390.60L325.82 390.60L326.42 390.60L327.02 390.60L327.62 390.59L328.22 390.59L328.82 390.58L329.42 390.58L330.02 390.57L330.62 390.57L331.22 390.56L331.82 390.56L332.42 390.55L333.02 390.54L333.62 390.53L334.22 390.52L334.82 390.52L335.42 390.51L336.02 390.50L336.62 390.49L337.22 390.48L337.82 390.47L338.42 390.46L339.02 390.45L339.62 390.45L340.22 390.44L340.82 390.43L341.42 390.42L342.02 390.41L342.62 390.40L343.22 390.40L343.82 390.39L344.42 390.38L345.02 390.37L345.62 390.37L346.22 390.36L346.82 390.35L347.42 390.34L348.02 390.33L348.62 390.32L349.22 390.31L349.82 390.30L350.42 390.29L351.02 390.29L351.62 390.28L352.22 390.27L352.82 390.26L353.42 390.25L354.02 390.24L354.62 390.23L355.22 390.22L355.82 390.21L356.42 390.20L357.02 390.19L357.62 390.19L358.22 390.18L358.82 390.17L359.42 390.16L360.02 390.15L360.62 390.15L361.22 390.14L361.82 390.13L362.42 390.13L363.02 390.12L363.62 390.11L364.22 390.11L364.82 390.10L365.42 390.10L366.02 390.09L366.62 390.09L367.22 390.08L367.82 390.08L368.42 390.07L369.02 390.07L369.62 390.06L370.22 390.06L370.82 390.05L371.42 390.05L372.02 390.05L372.62 390.04L373.22 390.04L373.82 390.03L374.42 390.03L375.02 390.03L375.62 390.02L376.22 390.02L376.82 390.02L377.42 390.01L378.02 390.01L378.62 390.01L379.22 390.01L379.82 390.00L380.42 390.00L381.00 390.00" stroke="#cc0404" stroke-width="1.85" stroke-dasharray="9.5 3.26" stroke-dashoffset="0.8"/>
</g>
<g clip-path="url(#cpd)" fill="none" stroke-linejoin="round">
<path d="M382.00 390.00L382.03 389.40L382.06 388.80L382.10 388.20L382.13 387.60L382.16 387.00L382.20 386.41L382.23 385.81L382.27 385.21L382.30 384.61L382.34 384.01L382.37 383.41L382.41 382.81L382.44 382.21L382.48 381.61L382.52 381.01L382.55 380.42L382.59 379.82L382.63 379.22L382.67 378.62L382.70 378.02L382.74 377.42L382.78 376.82L382.82 376.22L382.86 375.63L382.90 375.03L382.94 374.43L382.98 373.83L383.02 373.23L383.06 372.63L383.10 372.03L383.14 371.43L383.18 370.84L383.22 370.24L383.26 369.64L383.31 369.04L383.35 368.44L383.39 367.84L383.44 367.25L383.48 366.65L383.52 366.05L383.57 365.45L383.61 364.85L383.66 364.25L383.71 363.66L383.75 363.06L383.80 362.46L383.85 361.86L383.90 361.26L383.94 360.66L383.99 360.07L384.04 359.47L384.10 358.87L384.15 358.27L384.20 357.68L384.25 357.08L384.30 356.48L384.36 355.88L384.41 355.28L384.46 354.69L384.52 354.09L384.58 353.49L384.63 352.89L384.69 352.30L384.75 351.70L384.80 351.10L384.86 350.50L384.92 349.91L384.98 349.31L385.04 348.71L385.11 348.12L385.17 347.52L385.23 346.92L385.30 346.33L385.36 345.73L385.43 345.13L385.49 344.54L385.56 343.94L385.63 343.35L385.70 342.75L385.77 342.16L385.84 341.56L385.91 340.96L385.98 340.37L386.06 339.77L386.13 339.18L386.21 338.58L386.29 337.99L386.36 337.39L386.44 336.80L386.52 336.20L386.60 335.61L386.69 335.01L386.77 334.42L386.85 333.82L386.94 333.23L387.02 332.63L387.11 332.04L387.20 331.45L387.29 330.85L387.38 330.26L387.47 329.67L387.56 329.07L387.65 328.48L387.74 327.89L387.84 327.30L387.94 326.70L388.03 326.11L388.13 325.52L388.23 324.93L388.33 324.34L388.43 323.75L388.53 323.16L388.64 322.56L388.74 321.97L388.85 321.38L388.96 320.79L389.07 320.20L389.19 319.61L389.30 319.02L389.42 318.43L389.54 317.84L389.66 317.25L389.79 316.67L389.91 316.08L390.04 315.49L390.17 314.91L390.31 314.32L390.45 313.74L390.59 313.16L390.73 312.58L390.87 312.00L391.02 311.41L391.17 310.83L391.32 310.24L391.48 309.65L391.64 309.06L391.80 308.48L391.97 307.89L392.15 307.31L392.33 306.73L392.52 306.16L392.71 305.59L392.92 305.03L393.13 304.48L393.35 303.93L393.58 303.39L393.82 302.86L394.08 302.32L394.36 301.77L394.67 301.22L395.00 300.68L395.35 300.16L395.72 299.67L396.11 299.23L396.52 298.85L396.95 298.51L397.44 298.17L397.98 297.84L398.54 297.54L399.13 297.29L399.72 297.10L400.29 297.01L400.85 297.01L401.43 297.10L402.02 297.24L402.61 297.43L403.20 297.66L403.78 297.92L404.34 298.20L404.88 298.49L405.39 298.78L405.86 299.06L406.32 299.38L406.76 299.74L407.19 300.12L407.61 300.54L408.02 300.98L408.42 301.44L408.81 301.92L409.20 302.41L409.57 302.91L409.95 303.42L410.32 303.93L410.68 304.43L411.05 304.93L411.41 305.42L411.78 305.90L412.14 306.37L412.49 306.85L412.84 307.34L413.19 307.82L413.53 308.31L413.87 308.81L414.21 309.30L414.54 309.80L414.87 310.30L415.20 310.81L415.53 311.31L415.85 311.82L416.18 312.33L416.50 312.83L416.82 313.34L417.15 313.85L417.47 314.36L417.80 314.86L418.12 315.37L418.45 315.87L418.78 316.37L419.11 316.87L419.45 317.37L419.78 317.87L420.12 318.36L420.46 318.86L420.80 319.36L421.14 319.85L421.47 320.35L421.81 320.84L422.15 321.34L422.49 321.83L422.83 322.33L423.17 322.82L423.51 323.32L423.85 323.81L424.19 324.31L424.53 324.80L424.87 325.30L425.21 325.79L425.55 326.28L425.89 326.78L426.23 327.27L426.57 327.77L426.91 328.26L427.25 328.76L427.58 329.25L427.92 329.75L428.26 330.25L428.60 330.74L428.93 331.24L429.27 331.74L429.61 332.23L429.94 332.73L430.28 333.23L430.62 333.72L430.95 334.22L431.29 334.71L431.63 335.21L431.97 335.70L432.31 336.20L432.65 336.69L432.99 337.19L433.34 337.68L433.68 338.17L434.03 338.66L434.38 339.15L434.72 339.63L435.08 340.12L435.43 340.61L435.78 341.09L436.13 341.58L436.49 342.06L436.85 342.54L437.21 343.02L437.56 343.50L437.93 343.98L438.29 344.46L438.65 344.94L439.01 345.42L439.38 345.89L439.74 346.37L440.11 346.84L440.48 347.32L440.85 347.79L441.21 348.27L441.58 348.75L441.94 349.22L442.31 349.70L442.68 350.18L443.05 350.65L443.41 351.13L443.78 351.61L444.15 352.08L444.52 352.56L444.89 353.03L445.27 353.50L445.64 353.97L446.02 354.44L446.39 354.91L446.77 355.38L447.15 355.84L447.53 356.31L447.92 356.77L448.30 357.23L448.69 357.68L449.08 358.14L449.48 358.59L449.87 359.03L450.27 359.48L450.67 359.92L451.08 360.36L451.48 360.79L451.89 361.23L452.31 361.66L452.72 362.09L453.14 362.52L453.56 362.95L453.98 363.37L454.41 363.80L454.84 364.22L455.27 364.64L455.71 365.06L456.14 365.48L456.58 365.89L457.02 366.30L457.46 366.71L457.91 367.12L458.36 367.52L458.81 367.92L459.26 368.32L459.71 368.71L460.17 369.11L460.62 369.49L461.08 369.88L461.54 370.26L462.00 370.64L462.47 371.02L462.93 371.39L463.40 371.76L463.87 372.13L464.35 372.49L464.82 372.86L465.30 373.23L465.78 373.59L466.27 373.95L466.75 374.31L467.24 374.66L467.73 375.02L468.23 375.37L468.72 375.71L469.22 376.05L469.72 376.39L470.22 376.72L470.73 377.05L471.23 377.37L471.74 377.69L472.26 378.00L472.77 378.30L473.28 378.60L473.80 378.89L474.32 379.18L474.85 379.46L475.37 379.74L475.90 380.01L476.44 380.28L476.98 380.55L477.52 380.82L478.06 381.08L478.60 381.33L479.15 381.59L479.70 381.84L480.25 382.08L480.81 382.32L481.36 382.56L481.92 382.79L482.48 383.02L483.03 383.24L483.59 383.46L484.15 383.68L484.71 383.89L485.28 384.09L485.84 384.29L486.40 384.49L486.97 384.69L487.53 384.89L488.10 385.09L488.67 385.28L489.24 385.47L489.82 385.66L490.39 385.84L490.97 386.02L491.54 386.19L492.12 386.36L492.70 386.53L493.28 386.69L493.86 386.84L494.44 386.99L495.02 387.13L495.61 387.27L496.19 387.39L496.78 387.52L497.36 387.63L497.95 387.75L498.53 387.86L499.12 387.97L499.71 388.08L500.31 388.19L500.90 388.29L501.49 388.39L502.09 388.49L502.68 388.58L503.28 388.67L503.87 388.76L504.47 388.84L505.07 388.91L505.66 388.98L506.26 389.05L506.86 389.10L507.45 389.16L508.05 389.20L508.65 389.25L509.24 389.29L509.84 389.33L510.44 389.36L511.04 389.40L511.64 389.43L512.24 389.46L512.83 389.50L513.43 389.52L514.03 389.55L514.63 389.58L515.23 389.61L515.83 389.63L516.44 389.66L517.04 389.68L517.64 389.70L518.24 389.72L518.84 389.74L519.44 389.76L520.04 389.78L520.64 389.80L521.24 389.82L521.84 389.83L522.43 389.85L523.03 389.87L523.63 389.89L524.23 389.91L524.83 389.92L525.43 389.94L526.03 389.96L526.63 389.97L527.23 389.99L527.83 390.00L528.43 390.01L529.03 390.02L529.63 390.03L530.23 390.04L530.83 390.05L531.43 390.05L532.03 390.05L532.63 390.05L533.23 390.05L533.83 390.05L534.43 390.05L535.03 390.05L535.63 390.05L536.23 390.05L536.83 390.05L537.43 390.05L538.03 390.05L538.63 390.06L539.23 390.06L539.83 390.06L540.43 390.06L541.03 390.06L541.63 390.06L542.23 390.06L542.83 390.06L543.43 390.06L544.03 390.06L544.63 390.06L545.23 390.06L545.83 390.06L546.43 390.06L547.03 390.06L547.63 390.06L548.23 390.06L548.83 390.06L549.43 390.06L550.03 390.06L550.63 390.06L551.23 390.06L551.83 390.06L552.43 390.07L553.03 390.07L553.63 390.07L554.23 390.07L554.83 390.07L555.43 390.07L556.03 390.07L556.63 390.07L557.23 390.07L557.83 390.07L558.43 390.07L559.03 390.07L559.63 390.07L560.23 390.07L560.83 390.07L561.43 390.07L562.03 390.07L562.63 390.07L563.23 390.07L563.83 390.07L564.43 390.07L565.03 390.07L565.63 390.07L566.23 390.07L566.83 390.07L567.43 390.07L568.03 390.07L568.63 390.07L569.23 390.07L569.83 390.08L570.43 390.08L571.03 390.08L571.63 390.08L572.23 390.08L572.83 390.08L573.43 390.08L574.03 390.08L574.63 390.08L575.23 390.08L575.83 390.08L576.43 390.08L577.03 390.08L577.63 390.08L578.23 390.08L578.83 390.08L579.43 390.08L580.03 390.08L580.63 390.08L581.23 390.08L581.83 390.08L582.43 390.08L583.03 390.08L583.63 390.08L584.23 390.08L584.83 390.08L585.43 390.08L586.03 390.08L586.63 390.08L587.23 390.08L587.83 390.08L588.43 390.08L589.03 390.08L589.63 390.08L590.23 390.08L590.83 390.08L591.43 390.08L592.03 390.09L592.63 390.09L593.23 390.09L593.83 390.09L594.43 390.09L595.03 390.09L595.63 390.09L596.23 390.09L596.83 390.09L597.43 390.09L598.03 390.09L598.63 390.09L599.23 390.09L599.83 390.09L600.43 390.09L601.03 390.09L601.63 390.09L602.23 390.09L602.83 390.09L603.43 390.09L604.03 390.09L604.63 390.09L605.23 390.09L605.83 390.09L606.43 390.09L607.03 390.09L607.63 390.09L608.23 390.09L608.83 390.09L609.43 390.09L610.03 390.09L610.63 390.09L611.23 390.09L611.83 390.09L612.43 390.09L613.03 390.09L613.63 390.09L614.23 390.09L614.83 390.09L615.43 390.09L616.03 390.09L616.63 390.09L617.23 390.09L617.83 390.09L618.43 390.09L619.03 390.09L619.63 390.09L620.23 390.09L620.83 390.09L621.43 390.09L622.03 390.09L622.63 390.09L623.23 390.09L623.83 390.09L624.43 390.09L625.03 390.09L625.63 390.09L626.23 390.09L626.83 390.09L627.43 390.09L628.03 390.09L628.63 390.10L629.23 390.10L629.83 390.10L630.43 390.10L631.03 390.10L631.63 390.10L632.23 390.10L632.83 390.10L633.43 390.10L634.03 390.10L634.63 390.10L635.23 390.10L635.83 390.10L636.43 390.10L637.03 390.10L637.63 390.10L638.23 390.10L638.83 390.10L639.43 390.10L640.03 390.10L640.63 390.10L641.23 390.10L641.83 390.10L642.43 390.10L643.03 390.10L643.63 390.10L644.23 390.10L644.83 390.10L645.43 390.10L646.03 390.10L646.63 390.10L647.23 390.10L647.83 390.10L648.43 390.10L649.03 390.10L649.63 390.10L650.23 390.10L650.83 390.10L651.43 390.10L652.03 390.10L652.63 390.10L653.23 390.10L653.83 390.10L654.43 390.10L655.03 390.10L655.63 390.10L656.23 390.10L656.83 390.10L657.43 390.10L658.03 390.10L658.63 390.10L659.23 390.10L659.83 390.10L660.43 390.10L661.03 390.10L661.63 390.10L662.23 390.10L662.83 390.10L663.43 390.10L664.03 390.10L664.63 390.10L665.23 390.10L665.83 390.10L666.43 390.10L667.03 390.10L667.63 390.10L668.23 390.10L668.83 390.10L669.43 390.10L670.03 390.10L670.63 390.10L671.23 390.10L671.83 390.10L672.43 390.10L673.03 390.10L673.63 390.10L674.23 390.10L674.83 390.10L675.43 390.10L676.03 390.10L676.63 390.10L677.23 390.10L677.83 390.10L678.43 390.10L679.03 390.10L679.63 390.10L680.23 390.10L680.83 390.10L681.43 390.10L682.03 390.10L682.63 390.10L683.23 390.10L683.83 390.10L684.43 390.10L685.03 390.10L685.63 390.10L686.23 390.10L686.83 390.10L687.43 390.10L688.03 390.10L688.63 390.10L689.23 390.10L689.83 390.10L690.43 390.10L691.03 390.10L691.63 390.10L692.23 390.10L692.83 390.10L693.43 390.10L694.03 390.10L694.63 390.10L695.23 390.10L695.83 390.10L696.43 390.10L697.03 390.10L697.63 390.10L698.00 390.10" stroke="#0404cc" stroke-width="1.85"/>
<path d="M382.00 390.00L382.06 389.40L382.11 388.81L382.17 388.21L382.23 387.61L382.28 387.01L382.34 386.42L382.40 385.82L382.46 385.22L382.52 384.62L382.57 384.03L382.63 383.43L382.69 382.83L382.75 382.24L382.81 381.64L382.87 381.04L382.93 380.45L382.99 379.85L383.06 379.25L383.12 378.65L383.18 378.06L383.24 377.46L383.30 376.86L383.37 376.27L383.43 375.67L383.49 375.07L383.56 374.48L383.62 373.88L383.68 373.28L383.75 372.69L383.81 372.09L383.88 371.50L383.94 370.90L384.01 370.30L384.08 369.71L384.14 369.11L384.21 368.51L384.28 367.92L384.34 367.32L384.41 366.72L384.48 366.13L384.55 365.53L384.62 364.94L384.69 364.34L384.76 363.74L384.83 363.15L384.90 362.55L384.97 361.96L385.04 361.36L385.11 360.77L385.18 360.17L385.25 359.57L385.32 358.98L385.40 358.38L385.47 357.79L385.54 357.19L385.62 356.60L385.69 356.00L385.76 355.41L385.84 354.81L385.91 354.21L385.99 353.62L386.07 353.02L386.14 352.43L386.22 351.83L386.29 351.24L386.37 350.64L386.45 350.05L386.53 349.45L386.60 348.86L386.68 348.26L386.76 347.67L386.84 347.07L386.92 346.48L387.00 345.88L387.07 345.29L387.15 344.69L387.23 344.10L387.31 343.51L387.39 342.91L387.47 342.32L387.55 341.72L387.63 341.13L387.71 340.53L387.79 339.94L387.86 339.34L387.94 338.75L388.02 338.15L388.10 337.56L388.18 336.96L388.26 336.37L388.34 335.77L388.42 335.18L388.50 334.58L388.58 333.99L388.66 333.39L388.74 332.80L388.83 332.20L388.91 331.61L388.99 331.01L389.08 330.42L389.17 329.83L389.25 329.23L389.34 328.64L389.43 328.05L389.52 327.45L389.62 326.86L389.71 326.27L389.81 325.68L389.90 325.09L390.00 324.50L390.10 323.90L390.20 323.31L390.30 322.72L390.40 322.12L390.50 321.53L390.60 320.94L390.71 320.35L390.81 319.75L390.92 319.16L391.03 318.57L391.15 317.98L391.26 317.39L391.38 316.80L391.50 316.22L391.62 315.63L391.75 315.04L391.88 314.46L392.02 313.88L392.15 313.30L392.30 312.72L392.44 312.13L392.59 311.55L392.74 310.96L392.90 310.37L393.06 309.78L393.22 309.19L393.40 308.60L393.57 308.01L393.76 307.43L393.96 306.86L394.16 306.29L394.38 305.73L394.60 305.19L394.84 304.65L395.08 304.13L395.34 303.62L395.63 303.09L395.96 302.53L396.32 301.98L396.70 301.45L397.12 300.98L397.55 300.58L398.01 300.29L398.49 300.10L399.05 299.93L399.65 299.78L400.28 299.67L400.90 299.61L401.48 299.61L402.07 299.68L402.67 299.82L403.27 300.01L403.86 300.23L404.43 300.49L404.98 300.76L405.49 301.03L405.97 301.30L406.43 301.60L406.87 301.95L407.30 302.33L407.72 302.75L408.13 303.19L408.53 303.66L408.91 304.14L409.29 304.64L409.66 305.15L410.03 305.67L410.38 306.19L410.74 306.71L411.09 307.23L411.44 307.73L411.78 308.21L412.12 308.70L412.46 309.19L412.79 309.69L413.11 310.19L413.43 310.69L413.75 311.20L414.06 311.71L414.36 312.23L414.67 312.75L414.97 313.27L415.27 313.79L415.56 314.31L415.86 314.84L416.15 315.36L416.44 315.89L416.73 316.42L417.02 316.95L417.32 317.48L417.61 318.01L417.90 318.53L418.19 319.06L418.49 319.58L418.78 320.11L419.08 320.63L419.39 321.15L419.69 321.67L419.99 322.19L420.29 322.70L420.59 323.22L420.89 323.74L421.19 324.27L421.49 324.79L421.78 325.31L422.08 325.83L422.38 326.35L422.68 326.87L422.98 327.38L423.28 327.90L423.59 328.42L423.89 328.94L424.20 329.46L424.50 329.97L424.81 330.49L425.12 331.00L425.42 331.52L425.73 332.03L426.04 332.55L426.35 333.06L426.66 333.58L426.97 334.09L427.28 334.60L427.59 335.12L427.90 335.63L428.21 336.14L428.53 336.65L428.84 337.17L429.16 337.68L429.47 338.19L429.79 338.70L430.11 339.21L430.42 339.71L430.74 340.22L431.06 340.73L431.38 341.24L431.71 341.74L432.03 342.25L432.35 342.75L432.68 343.26L433.00 343.76L433.33 344.26L433.66 344.77L433.99 345.27L434.31 345.77L434.64 346.27L434.98 346.77L435.31 347.27L435.64 347.77L435.98 348.27L436.31 348.77L436.65 349.26L436.99 349.76L437.33 350.25L437.67 350.75L438.02 351.24L438.36 351.73L438.71 352.22L439.06 352.70L439.41 353.19L439.77 353.67L440.13 354.15L440.50 354.63L440.86 355.10L441.24 355.57L441.61 356.04L441.98 356.51L442.36 356.98L442.74 357.45L443.11 357.92L443.49 358.39L443.87 358.86L444.25 359.32L444.64 359.79L445.02 360.26L445.41 360.72L445.80 361.18L446.19 361.64L446.58 362.10L446.98 362.55L447.37 363.00L447.77 363.45L448.18 363.89L448.58 364.33L448.99 364.77L449.40 365.21L449.82 365.63L450.24 366.06L450.66 366.48L451.08 366.89L451.51 367.30L451.95 367.71L452.38 368.11L452.83 368.51L453.27 368.91L453.72 369.31L454.18 369.70L454.64 370.09L455.10 370.47L455.56 370.86L456.03 371.24L456.50 371.62L456.97 371.99L457.45 372.36L457.93 372.73L458.41 373.10L458.89 373.46L459.37 373.82L459.86 374.18L460.34 374.54L460.83 374.89L461.32 375.24L461.81 375.58L462.30 375.92L462.79 376.26L463.28 376.60L463.78 376.94L464.27 377.28L464.77 377.62L465.27 377.96L465.77 378.29L466.28 378.63L466.78 378.96L467.29 379.29L467.80 379.61L468.32 379.93L468.83 380.25L469.35 380.56L469.87 380.87L470.39 381.17L470.91 381.46L471.44 381.75L471.97 382.02L472.50 382.29L473.03 382.55L473.57 382.81L474.11 383.05L474.65 383.28L475.20 383.52L475.75 383.74L476.31 383.97L476.86 384.19L477.42 384.40L477.99 384.61L478.56 384.82L479.12 385.02L479.70 385.22L480.27 385.41L480.84 385.60L481.42 385.78L481.99 385.96L482.57 386.13L483.15 386.31L483.73 386.47L484.31 386.63L484.88 386.79L485.46 386.94L486.04 387.09L486.62 387.24L487.20 387.38L487.78 387.52L488.37 387.66L488.95 387.80L489.54 387.93L490.13 388.06L490.71 388.19L491.30 388.31L491.89 388.44L492.48 388.55L493.07 388.67L493.66 388.78L494.25 388.89L494.84 388.99L495.44 389.09L496.03 389.19L496.62 389.29L497.21 389.38L497.80 389.47L498.40 389.56L498.99 389.65L499.58 389.74L500.18 389.83L500.77 389.92L501.37 390.00L501.96 390.08L502.56 390.16L503.15 390.24L503.75 390.31L504.35 390.38L504.95 390.44L505.54 390.50L506.14 390.56L506.74 390.61L507.33 390.66L507.93 390.70L508.53 390.73L509.13 390.77L509.73 390.80L510.32 390.84L510.92 390.87L511.52 390.91L512.12 390.94L512.72 390.97L513.32 391.00L513.92 391.03L514.52 391.05L515.12 391.08L515.72 391.10L516.32 391.12L516.92 391.14L517.52 391.16L518.12 391.17L518.72 391.18L519.32 391.19L519.92 391.20L520.52 391.20L521.12 391.20L521.72 391.20L522.32 391.20L522.92 391.20L523.52 391.20L524.12 391.19L524.72 391.19L525.32 391.19L525.92 391.19L526.52 391.18L527.12 391.18L527.72 391.18L528.32 391.17L528.92 391.17L529.52 391.16L530.12 391.16L530.72 391.15L531.32 391.15L531.92 391.14L532.52 391.14L533.12 391.13L533.72 391.13L534.32 391.12L534.92 391.12L535.52 391.11L536.12 391.10L536.72 391.10L537.32 391.09L537.92 391.08L538.52 391.08L539.12 391.07L539.72 391.06L540.32 391.04L540.92 391.03L541.52 391.02L542.12 391.01L542.72 390.99L543.32 390.98L543.92 390.96L544.52 390.95L545.12 390.93L545.72 390.92L546.32 390.90L546.92 390.89L547.52 390.87L548.12 390.86L548.72 390.84L549.32 390.82L549.92 390.81L550.52 390.79L551.12 390.78L551.72 390.76L552.32 390.75L552.92 390.74L553.52 390.72L554.12 390.71L554.72 390.70L555.32 390.69L555.92 390.68L556.52 390.67L557.12 390.65L557.72 390.64L558.32 390.63L558.92 390.62L559.52 390.61L560.12 390.60L560.72 390.59L561.32 390.58L561.92 390.56L562.52 390.55L563.12 390.54L563.72 390.53L564.32 390.52L564.92 390.51L565.52 390.50L566.12 390.49L566.72 390.48L567.32 390.47L567.92 390.46L568.51 390.45L569.11 390.44L569.71 390.43L570.31 390.42L570.91 390.41L571.51 390.40L572.11 390.39L572.71 390.38L573.31 390.37L573.91 390.37L574.51 390.36L575.11 390.35L575.71 390.34L576.31 390.34L576.91 390.33L577.51 390.32L578.11 390.32L578.71 390.31L579.31 390.31L579.91 390.30L580.51 390.30L581.11 390.29L581.71 390.29L582.31 390.28L582.91 390.28L583.51 390.27L584.11 390.27L584.71 390.26L585.31 390.26L585.91 390.25L586.51 390.25L587.11 390.25L587.71 390.24L588.31 390.24L588.91 390.23L589.51 390.23L590.11 390.22L590.71 390.22L591.31 390.22L591.91 390.21L592.51 390.21L593.11 390.20L593.71 390.20L594.31 390.19L594.91 390.19L595.51 390.19L596.11 390.18L596.71 390.18L597.31 390.18L597.91 390.17L598.51 390.17L599.11 390.17L599.71 390.16L600.31 390.16L600.91 390.16L601.51 390.15L602.11 390.15L602.71 390.15L603.31 390.14L603.91 390.14L604.51 390.14L605.11 390.13L605.71 390.13L606.31 390.13L606.91 390.13L607.51 390.13L608.11 390.12L608.71 390.12L609.31 390.12L609.91 390.12L610.51 390.11L611.11 390.11L611.71 390.11L612.31 390.11L612.91 390.11L613.51 390.11L614.11 390.11L614.71 390.10L615.31 390.10L615.91 390.10L616.51 390.10L617.11 390.10L617.71 390.10L618.31 390.10L618.91 390.10L619.51 390.10L620.11 390.10L620.71 390.10L621.31 390.10L621.91 390.10L622.51 390.10L623.11 390.10L623.71 390.10L624.31 390.10L624.91 390.10L625.51 390.10L626.11 390.10L626.71 390.10L627.31 390.10L627.91 390.10L628.51 390.10L629.11 390.10L629.71 390.10L630.31 390.10L630.91 390.10L631.51 390.10L632.11 390.10L632.71 390.10L633.31 390.10L633.91 390.10L634.51 390.10L635.11 390.10L635.71 390.10L636.31 390.10L636.91 390.10L637.51 390.10L638.11 390.10L638.71 390.10L639.31 390.10L639.91 390.10L640.51 390.10L641.11 390.10L641.71 390.10L642.31 390.10L642.91 390.10L643.51 390.10L644.11 390.10L644.71 390.10L645.31 390.10L645.91 390.10L646.51 390.10L647.11 390.10L647.71 390.10L648.31 390.10L648.91 390.10L649.51 390.10L650.11 390.10L650.71 390.10L651.31 390.10L651.91 390.10L652.51 390.10L653.11 390.10L653.71 390.10L654.31 390.10L654.91 390.10L655.51 390.10L656.11 390.10L656.71 390.10L657.31 390.10L657.91 390.10L658.51 390.10L659.11 390.10L659.71 390.10L660.31 390.10L660.91 390.10L661.51 390.10L662.11 390.10L662.71 390.10L663.31 390.10L663.91 390.10L664.51 390.10L665.11 390.10L665.71 390.10L666.31 390.10L666.91 390.10L667.51 390.10L668.11 390.10L668.71 390.10L669.31 390.10L669.91 390.10L670.51 390.10L671.11 390.10L671.71 390.10L672.31 390.10L672.91 390.10L673.51 390.10L674.11 390.10L674.71 390.10L675.31 390.10L675.91 390.10L676.51 390.10L677.11 390.10L677.71 390.10L678.31 390.10L678.91 390.10L679.51 390.10L680.11 390.10L680.71 390.10L681.31 390.10L681.91 390.10L682.51 390.10L683.11 390.10L683.71 390.10L684.31 390.10L684.91 390.10L685.51 390.10L686.11 390.10L686.71 390.10L687.31 390.10L687.91 390.10L688.51 390.10L689.11 390.10L689.71 390.10L690.31 390.10L690.91 390.10L691.51 390.10L692.11 390.10L692.71 390.10L693.31 390.10L693.91 390.10L694.51 390.10L695.11 390.10L695.71 390.10L696.31 390.10L696.91 390.10L697.51 390.10L698.00 390.10" stroke="#cc0404" stroke-width="1.85" stroke-dasharray="9.5 3.26" stroke-dashoffset="0.5"/>
</g>
<line x1="66.00" y1="168.60" x2="698.20" y2="168.60" stroke="#000000" stroke-width="0.5"/>
<line x1="66.00" y1="390.30" x2="698.20" y2="390.30" stroke="#000000" stroke-width="0.5"/>
<line x1="66.00" y1="2.40" x2="66.00" y2="6.80" stroke="#0c0c0c" stroke-width="1.25"/>
<line x1="92.33" y1="2.40" x2="92.33" y2="4.80" stroke="#0c0c0c" stroke-width="1.25"/>
<line x1="118.67" y1="2.40" x2="118.67" y2="6.80" stroke="#0c0c0c" stroke-width="1.25"/>
<line x1="145.00" y1="2.40" x2="145.00" y2="4.80" stroke="#0c0c0c" stroke-width="1.25"/>
<line x1="171.33" y1="2.40" x2="171.33" y2="6.80" stroke="#0c0c0c" stroke-width="1.25"/>
<line x1="197.67" y1="2.40" x2="197.67" y2="4.80" stroke="#0c0c0c" stroke-width="1.25"/>
<line x1="224.00" y1="2.40" x2="224.00" y2="6.80" stroke="#0c0c0c" stroke-width="1.25"/>
<line x1="250.33" y1="2.40" x2="250.33" y2="4.80" stroke="#0c0c0c" stroke-width="1.25"/>
<line x1="276.67" y1="2.40" x2="276.67" y2="6.80" stroke="#0c0c0c" stroke-width="1.25"/>
<line x1="303.00" y1="2.40" x2="303.00" y2="4.80" stroke="#0c0c0c" stroke-width="1.25"/>
<line x1="329.33" y1="2.40" x2="329.33" y2="6.80" stroke="#0c0c0c" stroke-width="1.25"/>
<line x1="355.67" y1="2.40" x2="355.67" y2="4.80" stroke="#0c0c0c" stroke-width="1.25"/>
<line x1="382.00" y1="2.40" x2="382.00" y2="6.80" stroke="#0c0c0c" stroke-width="1.25"/>
<line x1="382.00" y1="2.40" x2="382.00" y2="6.80" stroke="#0c0c0c" stroke-width="1.25"/>
<line x1="408.35" y1="2.40" x2="408.35" y2="4.80" stroke="#0c0c0c" stroke-width="1.25"/>
<line x1="434.70" y1="2.40" x2="434.70" y2="6.80" stroke="#0c0c0c" stroke-width="1.25"/>
<line x1="461.05" y1="2.40" x2="461.05" y2="4.80" stroke="#0c0c0c" stroke-width="1.25"/>
<line x1="487.40" y1="2.40" x2="487.40" y2="6.80" stroke="#0c0c0c" stroke-width="1.25"/>
<line x1="513.75" y1="2.40" x2="513.75" y2="4.80" stroke="#0c0c0c" stroke-width="1.25"/>
<line x1="540.10" y1="2.40" x2="540.10" y2="6.80" stroke="#0c0c0c" stroke-width="1.25"/>
<line x1="566.45" y1="2.40" x2="566.45" y2="4.80" stroke="#0c0c0c" stroke-width="1.25"/>
<line x1="592.80" y1="2.40" x2="592.80" y2="6.80" stroke="#0c0c0c" stroke-width="1.25"/>
<line x1="619.15" y1="2.40" x2="619.15" y2="4.80" stroke="#0c0c0c" stroke-width="1.25"/>
<line x1="645.50" y1="2.40" x2="645.50" y2="6.80" stroke="#0c0c0c" stroke-width="1.25"/>
<line x1="671.85" y1="2.40" x2="671.85" y2="4.80" stroke="#0c0c0c" stroke-width="1.25"/>
<line x1="698.20" y1="2.40" x2="698.20" y2="6.80" stroke="#0c0c0c" stroke-width="1.25"/>
<line x1="66.00" y1="219.60" x2="66.00" y2="228.40" stroke="#0c0c0c" stroke-width="1.25"/>
<line x1="92.33" y1="221.60" x2="92.33" y2="226.40" stroke="#0c0c0c" stroke-width="1.25"/>
<line x1="118.67" y1="219.60" x2="118.67" y2="228.40" stroke="#0c0c0c" stroke-width="1.25"/>
<line x1="145.00" y1="221.60" x2="145.00" y2="226.40" stroke="#0c0c0c" stroke-width="1.25"/>
<line x1="171.33" y1="219.60" x2="171.33" y2="228.40" stroke="#0c0c0c" stroke-width="1.25"/>
<line x1="197.67" y1="221.60" x2="197.67" y2="226.40" stroke="#0c0c0c" stroke-width="1.25"/>
<line x1="224.00" y1="219.60" x2="224.00" y2="228.40" stroke="#0c0c0c" stroke-width="1.25"/>
<line x1="250.33" y1="221.60" x2="250.33" y2="226.40" stroke="#0c0c0c" stroke-width="1.25"/>
<line x1="276.67" y1="219.60" x2="276.67" y2="228.40" stroke="#0c0c0c" stroke-width="1.25"/>
<line x1="303.00" y1="221.60" x2="303.00" y2="226.40" stroke="#0c0c0c" stroke-width="1.25"/>
<line x1="329.33" y1="219.60" x2="329.33" y2="228.40" stroke="#0c0c0c" stroke-width="1.25"/>
<line x1="355.67" y1="221.60" x2="355.67" y2="226.40" stroke="#0c0c0c" stroke-width="1.25"/>
<line x1="382.00" y1="219.60" x2="382.00" y2="228.40" stroke="#0c0c0c" stroke-width="1.25"/>
<line x1="382.00" y1="219.60" x2="382.00" y2="228.40" stroke="#0c0c0c" stroke-width="1.25"/>
<line x1="408.35" y1="221.60" x2="408.35" y2="226.40" stroke="#0c0c0c" stroke-width="1.25"/>
<line x1="434.70" y1="219.60" x2="434.70" y2="228.40" stroke="#0c0c0c" stroke-width="1.25"/>
<line x1="461.05" y1="221.60" x2="461.05" y2="226.40" stroke="#0c0c0c" stroke-width="1.25"/>
<line x1="487.40" y1="219.60" x2="487.40" y2="228.40" stroke="#0c0c0c" stroke-width="1.25"/>
<line x1="513.75" y1="221.60" x2="513.75" y2="226.40" stroke="#0c0c0c" stroke-width="1.25"/>
<line x1="540.10" y1="219.60" x2="540.10" y2="228.40" stroke="#0c0c0c" stroke-width="1.25"/>
<line x1="566.45" y1="221.60" x2="566.45" y2="226.40" stroke="#0c0c0c" stroke-width="1.25"/>
<line x1="592.80" y1="219.60" x2="592.80" y2="228.40" stroke="#0c0c0c" stroke-width="1.25"/>
<line x1="619.15" y1="221.60" x2="619.15" y2="226.40" stroke="#0c0c0c" stroke-width="1.25"/>
<line x1="645.50" y1="219.60" x2="645.50" y2="228.40" stroke="#0c0c0c" stroke-width="1.25"/>
<line x1="671.85" y1="221.60" x2="671.85" y2="226.40" stroke="#0c0c0c" stroke-width="1.25"/>
<line x1="698.20" y1="219.60" x2="698.20" y2="228.40" stroke="#0c0c0c" stroke-width="1.25"/>
<line x1="66.00" y1="441.10" x2="66.00" y2="445.50" stroke="#0c0c0c" stroke-width="1.25"/>
<line x1="92.33" y1="443.10" x2="92.33" y2="445.50" stroke="#0c0c0c" stroke-width="1.25"/>
<line x1="118.67" y1="441.10" x2="118.67" y2="445.50" stroke="#0c0c0c" stroke-width="1.25"/>
<line x1="145.00" y1="443.10" x2="145.00" y2="445.50" stroke="#0c0c0c" stroke-width="1.25"/>
<line x1="171.33" y1="441.10" x2="171.33" y2="445.50" stroke="#0c0c0c" stroke-width="1.25"/>
<line x1="197.67" y1="443.10" x2="197.67" y2="445.50" stroke="#0c0c0c" stroke-width="1.25"/>
<line x1="224.00" y1="441.10" x2="224.00" y2="445.50" stroke="#0c0c0c" stroke-width="1.25"/>
<line x1="250.33" y1="443.10" x2="250.33" y2="445.50" stroke="#0c0c0c" stroke-width="1.25"/>
<line x1="276.67" y1="441.10" x2="276.67" y2="445.50" stroke="#0c0c0c" stroke-width="1.25"/>
<line x1="303.00" y1="443.10" x2="303.00" y2="445.50" stroke="#0c0c0c" stroke-width="1.25"/>
<line x1="329.33" y1="441.10" x2="329.33" y2="445.50" stroke="#0c0c0c" stroke-width="1.25"/>
<line x1="355.67" y1="443.10" x2="355.67" y2="445.50" stroke="#0c0c0c" stroke-width="1.25"/>
<line x1="382.00" y1="441.10" x2="382.00" y2="445.50" stroke="#0c0c0c" stroke-width="1.25"/>
<line x1="382.00" y1="441.10" x2="382.00" y2="445.50" stroke="#0c0c0c" stroke-width="1.25"/>
<line x1="408.35" y1="443.10" x2="408.35" y2="445.50" stroke="#0c0c0c" stroke-width="1.25"/>
<line x1="434.70" y1="441.10" x2="434.70" y2="445.50" stroke="#0c0c0c" stroke-width="1.25"/>
<line x1="461.05" y1="443.10" x2="461.05" y2="445.50" stroke="#0c0c0c" stroke-width="1.25"/>
<line x1="487.40" y1="441.10" x2="487.40" y2="445.50" stroke="#0c0c0c" stroke-width="1.25"/>
<line x1="513.75" y1="443.10" x2="513.75" y2="445.50" stroke="#0c0c0c" stroke-width="1.25"/>
<line x1="540.10" y1="441.10" x2="540.10" y2="445.50" stroke="#0c0c0c" stroke-width="1.25"/>
<line x1="566.45" y1="443.10" x2="566.45" y2="445.50" stroke="#0c0c0c" stroke-width="1.25"/>
<line x1="592.80" y1="441.10" x2="592.80" y2="445.50" stroke="#0c0c0c" stroke-width="1.25"/>
<line x1="619.15" y1="443.10" x2="619.15" y2="445.50" stroke="#0c0c0c" stroke-width="1.25"/>
<line x1="645.50" y1="441.10" x2="645.50" y2="445.50" stroke="#0c0c0c" stroke-width="1.25"/>
<line x1="671.85" y1="443.10" x2="671.85" y2="445.50" stroke="#0c0c0c" stroke-width="1.25"/>
<line x1="698.20" y1="441.10" x2="698.20" y2="445.50" stroke="#0c0c0c" stroke-width="1.25"/>
<line x1="66.00" y1="220.40" x2="68.40" y2="220.40" stroke="#0c0c0c" stroke-width="1.25"/>
<line x1="66.00" y1="203.10" x2="70.40" y2="203.10" stroke="#0c0c0c" stroke-width="1.25"/>
<line x1="66.00" y1="185.80" x2="68.40" y2="185.80" stroke="#0c0c0c" stroke-width="1.25"/>
<line x1="66.00" y1="168.50" x2="70.40" y2="168.50" stroke="#0c0c0c" stroke-width="1.25"/>
<line x1="66.00" y1="151.20" x2="68.40" y2="151.20" stroke="#0c0c0c" stroke-width="1.25"/>
<line x1="66.00" y1="133.90" x2="70.40" y2="133.90" stroke="#0c0c0c" stroke-width="1.25"/>
<line x1="66.00" y1="116.60" x2="68.40" y2="116.60" stroke="#0c0c0c" stroke-width="1.25"/>
<line x1="66.00" y1="99.30" x2="70.40" y2="99.30" stroke="#0c0c0c" stroke-width="1.25"/>
<line x1="66.00" y1="82.00" x2="68.40" y2="82.00" stroke="#0c0c0c" stroke-width="1.25"/>
<line x1="66.00" y1="64.70" x2="70.40" y2="64.70" stroke="#0c0c0c" stroke-width="1.25"/>
<line x1="66.00" y1="47.40" x2="68.40" y2="47.40" stroke="#0c0c0c" stroke-width="1.25"/>
<line x1="66.00" y1="30.10" x2="70.40" y2="30.10" stroke="#0c0c0c" stroke-width="1.25"/>
<line x1="66.00" y1="12.80" x2="68.40" y2="12.80" stroke="#0c0c0c" stroke-width="1.25"/>
<line x1="66.00" y1="442.00" x2="68.40" y2="442.00" stroke="#0c0c0c" stroke-width="1.25"/>
<line x1="66.00" y1="424.70" x2="70.40" y2="424.70" stroke="#0c0c0c" stroke-width="1.25"/>
<line x1="66.00" y1="407.40" x2="68.40" y2="407.40" stroke="#0c0c0c" stroke-width="1.25"/>
<line x1="66.00" y1="390.10" x2="70.40" y2="390.10" stroke="#0c0c0c" stroke-width="1.25"/>
<line x1="66.00" y1="372.80" x2="68.40" y2="372.80" stroke="#0c0c0c" stroke-width="1.25"/>
<line x1="66.00" y1="355.50" x2="70.40" y2="355.50" stroke="#0c0c0c" stroke-width="1.25"/>
<line x1="66.00" y1="338.20" x2="68.40" y2="338.20" stroke="#0c0c0c" stroke-width="1.25"/>
<line x1="66.00" y1="320.90" x2="70.40" y2="320.90" stroke="#0c0c0c" stroke-width="1.25"/>
<line x1="66.00" y1="303.60" x2="68.40" y2="303.60" stroke="#0c0c0c" stroke-width="1.25"/>
<line x1="66.00" y1="286.30" x2="70.40" y2="286.30" stroke="#0c0c0c" stroke-width="1.25"/>
<line x1="66.00" y1="269.00" x2="68.40" y2="269.00" stroke="#0c0c0c" stroke-width="1.25"/>
<line x1="66.00" y1="251.70" x2="70.40" y2="251.70" stroke="#0c0c0c" stroke-width="1.25"/>
<line x1="66.00" y1="234.40" x2="68.40" y2="234.40" stroke="#0c0c0c" stroke-width="1.25"/>
<line x1="379.60" y1="220.40" x2="384.40" y2="220.40" stroke="#0c0c0c" stroke-width="1.25"/>
<line x1="377.60" y1="203.10" x2="386.40" y2="203.10" stroke="#0c0c0c" stroke-width="1.25"/>
<line x1="379.60" y1="185.80" x2="384.40" y2="185.80" stroke="#0c0c0c" stroke-width="1.25"/>
<line x1="377.60" y1="168.50" x2="386.40" y2="168.50" stroke="#0c0c0c" stroke-width="1.25"/>
<line x1="379.60" y1="151.20" x2="384.40" y2="151.20" stroke="#0c0c0c" stroke-width="1.25"/>
<line x1="377.60" y1="133.90" x2="386.40" y2="133.90" stroke="#0c0c0c" stroke-width="1.25"/>
<line x1="379.60" y1="116.60" x2="384.40" y2="116.60" stroke="#0c0c0c" stroke-width="1.25"/>
<line x1="377.60" y1="99.30" x2="386.40" y2="99.30" stroke="#0c0c0c" stroke-width="1.25"/>
<line x1="379.60" y1="82.00" x2="384.40" y2="82.00" stroke="#0c0c0c" stroke-width="1.25"/>
<line x1="377.60" y1="64.70" x2="386.40" y2="64.70" stroke="#0c0c0c" stroke-width="1.25"/>
<line x1="379.60" y1="47.40" x2="384.40" y2="47.40" stroke="#0c0c0c" stroke-width="1.25"/>
<line x1="377.60" y1="30.10" x2="386.40" y2="30.10" stroke="#0c0c0c" stroke-width="1.25"/>
<line x1="379.60" y1="12.80" x2="384.40" y2="12.80" stroke="#0c0c0c" stroke-width="1.25"/>
<line x1="379.60" y1="442.00" x2="384.40" y2="442.00" stroke="#0c0c0c" stroke-width="1.25"/>
<line x1="377.60" y1="424.70" x2="386.40" y2="424.70" stroke="#0c0c0c" stroke-width="1.25"/>
<line x1="379.60" y1="407.40" x2="384.40" y2="407.40" stroke="#0c0c0c" stroke-width="1.25"/>
<line x1="377.60" y1="390.10" x2="386.40" y2="390.10" stroke="#0c0c0c" stroke-width="1.25"/>
<line x1="379.60" y1="372.80" x2="384.40" y2="372.80" stroke="#0c0c0c" stroke-width="1.25"/>
<line x1="377.60" y1="355.50" x2="386.40" y2="355.50" stroke="#0c0c0c" stroke-width="1.25"/>
<line x1="379.60" y1="338.20" x2="384.40" y2="338.20" stroke="#0c0c0c" stroke-width="1.25"/>
<line x1="377.60" y1="320.90" x2="386.40" y2="320.90" stroke="#0c0c0c" stroke-width="1.25"/>
<line x1="379.60" y1="303.60" x2="384.40" y2="303.60" stroke="#0c0c0c" stroke-width="1.25"/>
<line x1="377.60" y1="286.30" x2="386.40" y2="286.30" stroke="#0c0c0c" stroke-width="1.25"/>
<line x1="379.60" y1="269.00" x2="384.40" y2="269.00" stroke="#0c0c0c" stroke-width="1.25"/>
<line x1="377.60" y1="251.70" x2="386.40" y2="251.70" stroke="#0c0c0c" stroke-width="1.25"/>
<line x1="379.60" y1="234.40" x2="384.40" y2="234.40" stroke="#0c0c0c" stroke-width="1.25"/>
<line x1="695.80" y1="220.40" x2="698.20" y2="220.40" stroke="#0c0c0c" stroke-width="1.25"/>
<line x1="693.80" y1="203.10" x2="698.20" y2="203.10" stroke="#0c0c0c" stroke-width="1.25"/>
<line x1="695.80" y1="185.80" x2="698.20" y2="185.80" stroke="#0c0c0c" stroke-width="1.25"/>
<line x1="693.80" y1="168.50" x2="698.20" y2="168.50" stroke="#0c0c0c" stroke-width="1.25"/>
<line x1="695.80" y1="151.20" x2="698.20" y2="151.20" stroke="#0c0c0c" stroke-width="1.25"/>
<line x1="693.80" y1="133.90" x2="698.20" y2="133.90" stroke="#0c0c0c" stroke-width="1.25"/>
<line x1="695.80" y1="116.60" x2="698.20" y2="116.60" stroke="#0c0c0c" stroke-width="1.25"/>
<line x1="693.80" y1="99.30" x2="698.20" y2="99.30" stroke="#0c0c0c" stroke-width="1.25"/>
<line x1="695.80" y1="82.00" x2="698.20" y2="82.00" stroke="#0c0c0c" stroke-width="1.25"/>
<line x1="693.80" y1="64.70" x2="698.20" y2="64.70" stroke="#0c0c0c" stroke-width="1.25"/>
<line x1="695.80" y1="47.40" x2="698.20" y2="47.40" stroke="#0c0c0c" stroke-width="1.25"/>
<line x1="693.80" y1="30.10" x2="698.20" y2="30.10" stroke="#0c0c0c" stroke-width="1.25"/>
<line x1="695.80" y1="12.80" x2="698.20" y2="12.80" stroke="#0c0c0c" stroke-width="1.25"/>
<line x1="695.80" y1="442.00" x2="698.20" y2="442.00" stroke="#0c0c0c" stroke-width="1.25"/>
<line x1="693.80" y1="424.70" x2="698.20" y2="424.70" stroke="#0c0c0c" stroke-width="1.25"/>
<line x1="695.80" y1="407.40" x2="698.20" y2="407.40" stroke="#0c0c0c" stroke-width="1.25"/>
<line x1="693.80" y1="390.10" x2="698.20" y2="390.10" stroke="#0c0c0c" stroke-width="1.25"/>
<line x1="695.80" y1="372.80" x2="698.20" y2="372.80" stroke="#0c0c0c" stroke-width="1.25"/>
<line x1="693.80" y1="355.50" x2="698.20" y2="355.50" stroke="#0c0c0c" stroke-width="1.25"/>
<line x1="695.80" y1="338.20" x2="698.20" y2="338.20" stroke="#0c0c0c" stroke-width="1.25"/>
<line x1="693.80" y1="320.90" x2="698.20" y2="320.90" stroke="#0c0c0c" stroke-width="1.25"/>
<line x1="695.80" y1="303.60" x2="698.20" y2="303.60" stroke="#0c0c0c" stroke-width="1.25"/>
<line x1="693.80" y1="286.30" x2="698.20" y2="286.30" stroke="#0c0c0c" stroke-width="1.25"/>
<line x1="695.80" y1="269.00" x2="698.20" y2="269.00" stroke="#0c0c0c" stroke-width="1.25"/>
<line x1="693.80" y1="251.70" x2="698.20" y2="251.70" stroke="#0c0c0c" stroke-width="1.25"/>
<line x1="695.80" y1="234.40" x2="698.20" y2="234.40" stroke="#0c0c0c" stroke-width="1.25"/>
<rect x="66.00" y="2.40" width="632.20" height="443.10" fill="none" stroke="#0c0c0c" stroke-width="1.40"/>
<line x1="382.10" y1="2.40" x2="382.10" y2="445.50" stroke="#0c0c0c" stroke-width="1.80"/>
<line x1="66.00" y1="224.00" x2="698.20" y2="224.00" stroke="#0c0c0c" stroke-width="1.70"/>
<g font-family="'Liberation Serif', serif" font-size="20" fill="#222222">
<text x="60.60" y="35.10" text-anchor="end" >0.2</text>
<text x="60.60" y="69.70" text-anchor="end" >0.15</text>
<text x="60.60" y="104.30" text-anchor="end" >0.1</text>
<text x="60.60" y="138.90" text-anchor="end" >0.05</text>
<text x="60.60" y="173.50" text-anchor="end" >0</text>
<text x="60.60" y="208.10" text-anchor="end" >-0.05</text>
<text x="60.60" y="256.70" text-anchor="end" >0.2</text>
<text x="60.60" y="291.30" text-anchor="end" >0.15</text>
<text x="60.60" y="325.90" text-anchor="end" >0.1</text>
<text x="60.60" y="360.50" text-anchor="end" >0.05</text>
<text x="60.60" y="395.10" text-anchor="end" >0</text>
<text x="60.60" y="429.70" text-anchor="end" >-0.05</text>
<text x="66.00" y="464.10" text-anchor="middle" >0</text>
<text x="118.67" y="464.10" text-anchor="middle" >1</text>
<text x="171.33" y="464.10" text-anchor="middle" >2</text>
<text x="224.00" y="464.10" text-anchor="middle" >3</text>
<text x="276.67" y="464.10" text-anchor="middle" >4</text>
<text x="329.33" y="464.10" text-anchor="middle" >5</text>
<text x="382.00" y="464.10" text-anchor="middle" >0</text>
<text x="434.70" y="464.10" text-anchor="middle" >1</text>
<text x="487.40" y="464.10" text-anchor="middle" >2</text>
<text x="540.10" y="464.10" text-anchor="middle" >3</text>
<text x="592.80" y="464.10" text-anchor="middle" >4</text>
<text x="645.50" y="464.10" text-anchor="middle" >5</text>
<text x="698.20" y="464.10" text-anchor="middle" >6</text>
<text x="199.28" y="482.00" text-anchor="start" font-style="italic">r</text>
<text x="249.48" y="482.00" text-anchor="end" >[fm]</text>
<text x="515.38" y="482.00" text-anchor="start" font-style="italic">r</text>
<text x="565.58" y="482.00" text-anchor="end" >[fm]</text>
<g transform="translate(16.0,171.40) rotate(-90)">
<text x="0.10" y="0.00" font-size="20" font-style="italic">R</text>
<text x="11.90" y="3.20" font-size="14.5">+</text>
<text x="22.65" y="0.00" font-size="20">(</text>
<text x="29.20" y="0.00" font-size="20" font-style="italic">r</text>
<text x="37.35" y="0.00" font-size="20">)</text>
<text transform="translate(49.30,0.50) scale(1.1,1)" font-size="20">−</text>
<text x="66.70" y="0.00" font-size="20" font-style="italic">r</text>
<text x="81.00" y="0.00" font-size="20">[fm]</text>
</g>
<g transform="translate(16.0,393.00) rotate(-90)">
<text x="0.10" y="0.00" font-size="20" font-style="italic">R</text>
<text x="11.90" y="3.20" font-size="14.5">+</text>
<text x="22.65" y="0.00" font-size="20">(</text>
<text x="29.20" y="0.00" font-size="20" font-style="italic">r</text>
<text x="37.35" y="0.00" font-size="20">)</text>
<text transform="translate(49.30,0.50) scale(1.1,1)" font-size="20">−</text>
<text x="66.70" y="0.00" font-size="20" font-style="italic">r</text>
<text x="81.00" y="0.00" font-size="20">[fm]</text>
</g>
<text x="363.20" y="30.20" text-anchor="end" >(a)</text>
<text x="315.60" y="55.00" text-anchor="start" ><tspan font-style="italic">S</tspan></text>
<text transform="translate(340.50,55.00) scale(1.18,1)" text-anchor="middle">=</text>
<text x="358.30" y="55.00" text-anchor="middle" >0</text>
<text x="315.60" y="79.30" text-anchor="start" ><tspan font-style="italic">T</tspan></text>
<text transform="translate(340.50,79.30) scale(1.18,1)" text-anchor="middle">=</text>
<text x="358.30" y="79.30" text-anchor="middle" >0</text>
<text x="679.00" y="35.00" text-anchor="end" >(b)</text>
<text x="631.40" y="59.50" text-anchor="start" ><tspan font-style="italic">S</tspan></text>
<text transform="translate(656.30,59.50) scale(1.18,1)" text-anchor="middle">=</text>
<text x="674.10" y="59.50" text-anchor="middle" >0</text>
<text x="631.40" y="83.30" text-anchor="start" ><tspan font-style="italic">T</tspan></text>
<text transform="translate(656.30,83.30) scale(1.18,1)" text-anchor="middle">=</text>
<text x="674.10" y="83.30" text-anchor="middle" >1</text>
<text x="363.20" y="255.50" text-anchor="end" >(c)</text>
<text x="315.60" y="280.10" text-anchor="start" ><tspan font-style="italic">S</tspan></text>
<text transform="translate(340.50,280.10) scale(1.18,1)" text-anchor="middle">=</text>
<text x="358.30" y="280.10" text-anchor="middle" >1</text>
<text x="315.60" y="304.40" text-anchor="start" ><tspan font-style="italic">T</tspan></text>
<text transform="translate(340.50,304.40) scale(1.18,1)" text-anchor="middle">=</text>
<text x="358.30" y="304.40" text-anchor="middle" >0</text>
<text x="679.00" y="252.20" text-anchor="end" >(d)</text>
<text x="631.40" y="276.50" text-anchor="start" ><tspan font-style="italic">S</tspan></text>
<text transform="translate(656.30,276.50) scale(1.18,1)" text-anchor="middle">=</text>
<text x="674.10" y="276.50" text-anchor="middle" >1</text>
<text x="631.40" y="301.40" text-anchor="start" ><tspan font-style="italic">T</tspan></text>
<text transform="translate(656.30,301.40) scale(1.18,1)" text-anchor="middle">=</text>
<text x="674.10" y="301.40" text-anchor="middle" >1</text>
</g>
</svg>
</body></html>
